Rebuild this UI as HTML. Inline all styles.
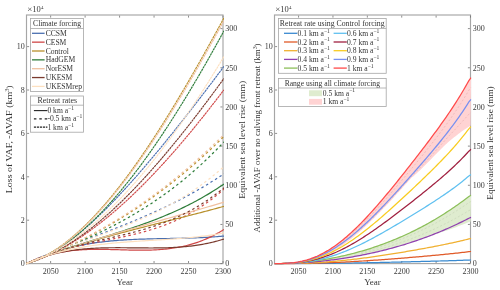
<!DOCTYPE html>
<html><head><meta charset="utf-8"><style>
html,body{margin:0;padding:0;background:#fff;width:500px;height:290px;overflow:hidden}
svg{display:block;will-change:transform}
#w{width:500px;height:290px}
</style></head><body><div id="w">
<svg width="500" height="290" viewBox="0 0 500 290">
<defs>
<clipPath id="cl"><rect x="25.5" y="14.0" width="198.5" height="250.60000000000002"/></clipPath>
<clipPath id="cr"><rect x="273.5" y="14.0" width="198.0" height="250.60000000000002"/></clipPath>
</defs>
<rect x="26.5" y="15.0" width="196.5" height="248.60000000000002" fill="none" stroke="#a6a6a6" stroke-width="1.15"/>
<rect x="274.5" y="15.0" width="196.0" height="248.60000000000002" fill="none" stroke="#a6a6a6" stroke-width="1.15"/>
<path d="M50.63,263.0 v-2 M50.63,15.6 v2 M85.11,263.0 v-2 M85.11,15.6 v2 M119.58,263.0 v-2 M119.58,15.6 v2 M154.05,263.0 v-2 M154.05,15.6 v2 M188.53,263.0 v-2 M188.53,15.6 v2 M223.00,263.0 v-2 M223.00,15.6 v2 M27.1,263.60 h2 M27.1,220.20 h2 M27.1,176.80 h2 M27.1,133.40 h2 M27.1,90.00 h2 M27.1,46.60 h2 M222.4,263.60 h-2 M222.4,224.44 h-2 M222.4,185.27 h-2 M222.4,146.11 h-2 M222.4,106.94 h-2 M222.4,67.78 h-2 M222.4,28.61 h-2" stroke="#707070" stroke-width="0.8" fill="none"/>
<path d="M298.57,263.0 v-2 M298.57,15.6 v2 M332.96,263.0 v-2 M332.96,15.6 v2 M367.34,263.0 v-2 M367.34,15.6 v2 M401.73,263.0 v-2 M401.73,15.6 v2 M436.11,263.0 v-2 M436.11,15.6 v2 M470.50,263.0 v-2 M470.50,15.6 v2 M275.1,263.60 h2 M275.1,220.20 h2 M275.1,176.80 h2 M275.1,133.40 h2 M275.1,90.00 h2 M275.1,46.60 h2 M469.9,263.60 h-2 M469.9,224.44 h-2 M469.9,185.27 h-2 M469.9,146.11 h-2 M469.9,106.94 h-2 M469.9,67.78 h-2 M469.9,28.61 h-2" stroke="#707070" stroke-width="0.8" fill="none"/>
<g clip-path="url(#cl)" fill="none" stroke-width="1.2">
<path d="M26.50,263.60 L28.16,262.78 L29.82,261.99 L31.48,261.20 L33.14,260.44 L34.80,259.70 L36.46,258.97 L38.12,258.26 L39.78,257.57 L41.44,256.89 L43.10,256.24 L44.76,255.59 L46.42,254.97 L48.08,254.36 L49.74,253.76 L51.39,253.19 L53.05,252.62 L54.71,252.08 L56.37,251.55 L58.03,251.03 L59.69,250.53 L61.35,250.04 L63.01,249.56 L64.67,249.10 L66.33,248.66 L67.99,248.22 L69.65,247.80 L71.31,247.40 L72.97,247.00 L74.63,246.62 L76.29,246.25 L77.95,245.89 L79.61,245.55 L81.27,245.22 L82.93,244.89 L84.59,244.58 L86.25,244.28 L87.91,244.00 L89.57,243.72 L91.23,243.45 L92.89,243.19 L94.55,242.94 L96.21,242.71 L97.87,242.48 L99.53,242.26 L101.18,242.05 L102.84,241.85 L104.50,241.65 L106.16,241.47 L107.82,241.29 L109.48,241.12 L111.14,240.96 L112.80,240.81 L114.46,240.67 L116.12,240.53 L117.78,240.39 L119.44,240.27 L121.10,240.15 L122.76,240.04 L124.42,239.93 L126.08,239.83 L127.74,239.73 L129.40,239.64 L131.06,239.56 L132.72,239.48 L134.38,239.40 L136.04,239.33 L137.70,239.26 L139.36,239.20 L141.02,239.14 L142.68,239.08 L144.34,239.03 L146.00,238.98 L147.66,238.94 L149.32,238.89 L150.97,238.85 L152.63,238.81 L154.29,238.77 L155.95,238.74 L157.61,238.70 L159.27,238.67 L160.93,238.64 L162.59,238.61 L164.25,238.57 L165.91,238.54 L167.57,238.51 L169.23,238.48 L170.89,238.45 L172.55,238.42 L174.21,238.39 L175.87,238.36 L177.53,238.33 L179.19,238.29 L180.85,238.26 L182.51,238.22 L184.17,238.18 L185.83,238.13 L187.49,238.09 L189.15,238.04 L190.81,237.99 L192.47,237.94 L194.13,237.88 L195.79,237.82 L197.45,237.76 L199.11,237.69 L200.76,237.61 L202.42,237.54 L204.08,237.45 L205.74,237.37 L207.40,237.28 L209.06,237.18 L210.72,237.08 L212.38,236.97 L214.04,236.85 L215.70,236.73 L217.36,236.61 L219.02,236.47 L220.68,236.33 L222.34,236.18 L224.00,236.03" stroke="#4a6fb0"/>
<path d="M26.50,263.60 L28.16,262.87 L29.82,262.15 L31.48,261.44 L33.14,260.73 L34.80,260.02 L36.46,259.32 L38.12,258.62 L39.78,257.93 L41.44,257.24 L43.10,256.55 L44.76,255.87 L46.42,255.19 L48.08,254.52 L49.74,253.84 L51.39,253.18 L53.05,252.51 L54.71,251.85 L56.37,251.19 L58.03,250.53 L59.69,249.88 L61.35,249.22 L63.01,248.57 L64.67,247.93 L66.33,247.28 L67.99,246.64 L69.65,245.99 L71.31,245.35 L72.97,244.71 L74.63,244.07 L76.29,243.44 L77.95,242.80 L79.61,242.16 L81.27,241.53 L82.93,240.89 L84.59,240.26 L86.25,239.63 L87.91,238.99 L89.57,238.36 L91.23,237.72 L92.89,237.09 L94.55,236.45 L96.21,235.82 L97.87,235.18 L99.53,234.54 L101.18,233.91 L102.84,233.27 L104.50,232.63 L106.16,231.98 L107.82,231.34 L109.48,230.69 L111.14,230.05 L112.80,229.40 L114.46,228.74 L116.12,228.09 L117.78,227.43 L119.44,226.77 L121.10,226.11 L122.76,225.45 L124.42,224.78 L126.08,224.11 L127.74,223.43 L129.40,222.75 L131.06,222.07 L132.72,221.39 L134.38,220.70 L136.04,220.01 L137.70,219.31 L139.36,218.61 L141.02,217.90 L142.68,217.19 L144.34,216.47 L146.00,215.75 L147.66,215.03 L149.32,214.30 L150.97,213.56 L152.63,212.82 L154.29,212.07 L155.95,211.32 L157.61,210.56 L159.27,209.80 L160.93,209.03 L162.59,208.25 L164.25,207.47 L165.91,206.68 L167.57,205.88 L169.23,205.08 L170.89,204.27 L172.55,203.45 L174.21,202.63 L175.87,201.80 L177.53,200.96 L179.19,200.11 L180.85,199.25 L182.51,198.39 L184.17,197.52 L185.83,196.64 L187.49,195.75 L189.15,194.86 L190.81,193.95 L192.47,193.04 L194.13,192.11 L195.79,191.18 L197.45,190.24 L199.11,189.29 L200.76,188.33 L202.42,187.36 L204.08,186.38 L205.74,185.39 L207.40,184.39 L209.06,183.38 L210.72,182.36 L212.38,181.33 L214.04,180.29 L215.70,179.24 L217.36,178.17 L219.02,177.10 L220.68,176.01 L222.34,174.92 L224.00,173.81" stroke="#4a6fb0" stroke-width="1.2" stroke-dasharray="2.5,2.8"/>
<path d="M26.50,263.60 L28.16,263.10 L29.82,262.56 L31.48,261.99 L33.14,261.39 L34.80,260.76 L36.46,260.10 L38.12,259.40 L39.78,258.68 L41.44,257.92 L43.10,257.13 L44.76,256.32 L46.42,255.47 L48.08,254.60 L49.74,253.69 L51.39,252.76 L53.05,251.80 L54.71,250.82 L56.37,249.81 L58.03,248.77 L59.69,247.70 L61.35,246.61 L63.01,245.49 L64.67,244.35 L66.33,243.18 L67.99,241.99 L69.65,240.77 L71.31,239.53 L72.97,238.27 L74.63,236.99 L76.29,235.68 L77.95,234.35 L79.61,233.00 L81.27,231.62 L82.93,230.23 L84.59,228.82 L86.25,227.38 L87.91,225.93 L89.57,224.45 L91.23,222.96 L92.89,221.45 L94.55,219.92 L96.21,218.37 L97.87,216.81 L99.53,215.22 L101.18,213.62 L102.84,212.01 L104.50,210.37 L106.16,208.73 L107.82,207.06 L109.48,205.38 L111.14,203.68 L112.80,201.97 L114.46,200.25 L116.12,198.51 L117.78,196.76 L119.44,194.99 L121.10,193.21 L122.76,191.42 L124.42,189.61 L126.08,187.79 L127.74,185.96 L129.40,184.12 L131.06,182.27 L132.72,180.41 L134.38,178.53 L136.04,176.65 L137.70,174.75 L139.36,172.85 L141.02,170.94 L142.68,169.01 L144.34,167.08 L146.00,165.14 L147.66,163.19 L149.32,161.24 L150.97,159.27 L152.63,157.30 L154.29,155.32 L155.95,153.33 L157.61,151.34 L159.27,149.34 L160.93,147.33 L162.59,145.31 L164.25,143.28 L165.91,141.25 L167.57,139.21 L169.23,137.17 L170.89,135.11 L172.55,133.05 L174.21,130.99 L175.87,128.91 L177.53,126.83 L179.19,124.75 L180.85,122.65 L182.51,120.56 L184.17,118.45 L185.83,116.34 L187.49,114.22 L189.15,112.10 L190.81,109.97 L192.47,107.84 L194.13,105.70 L195.79,103.55 L197.45,101.40 L199.11,99.24 L200.76,97.08 L202.42,94.92 L204.08,92.75 L205.74,90.57 L207.40,88.39 L209.06,86.20 L210.72,84.01 L212.38,81.82 L214.04,79.62 L215.70,77.41 L217.36,75.20 L219.02,72.99 L220.68,70.77 L222.34,68.55 L224.00,66.33" stroke="#4a6fb0" stroke-width="1.15" stroke-dasharray="2.4,0.55"/>
<path d="M26.50,263.60 L28.16,262.78 L29.82,261.99 L31.48,261.23 L33.14,260.50 L34.80,259.80 L36.46,259.13 L38.12,258.48 L39.78,257.87 L41.44,257.28 L43.10,256.72 L44.76,256.18 L46.42,255.67 L48.08,255.18 L49.74,254.72 L51.39,254.28 L53.05,253.87 L54.71,253.48 L56.37,253.11 L58.03,252.76 L59.69,252.43 L61.35,252.12 L63.01,251.83 L64.67,251.56 L66.33,251.31 L67.99,251.08 L69.65,250.87 L71.31,250.67 L72.97,250.49 L74.63,250.32 L76.29,250.17 L77.95,250.04 L79.61,249.91 L81.27,249.81 L82.93,249.71 L84.59,249.63 L86.25,249.56 L87.91,249.50 L89.57,249.45 L91.23,249.41 L92.89,249.38 L94.55,249.36 L96.21,249.35 L97.87,249.35 L99.53,249.35 L101.18,249.36 L102.84,249.38 L104.50,249.40 L106.16,249.43 L107.82,249.46 L109.48,249.50 L111.14,249.53 L112.80,249.58 L114.46,249.62 L116.12,249.67 L117.78,249.72 L119.44,249.76 L121.10,249.81 L122.76,249.86 L124.42,249.91 L126.08,249.95 L127.74,249.99 L129.40,250.03 L131.06,250.07 L132.72,250.10 L134.38,250.13 L136.04,250.15 L137.70,250.17 L139.36,250.18 L141.02,250.19 L142.68,250.18 L144.34,250.17 L146.00,250.15 L147.66,250.13 L149.32,250.09 L150.97,250.04 L152.63,249.98 L154.29,249.91 L155.95,249.83 L157.61,249.74 L159.27,249.63 L160.93,249.51 L162.59,249.38 L164.25,249.23 L165.91,249.06 L167.57,248.88 L169.23,248.69 L170.89,248.47 L172.55,248.24 L174.21,248.00 L175.87,247.73 L177.53,247.44 L179.19,247.14 L180.85,246.81 L182.51,246.47 L184.17,246.10 L185.83,245.71 L187.49,245.29 L189.15,244.86 L190.81,244.40 L192.47,243.92 L194.13,243.41 L195.79,242.88 L197.45,242.32 L199.11,241.73 L200.76,241.12 L202.42,240.48 L204.08,239.81 L205.74,239.11 L207.40,238.39 L209.06,237.63 L210.72,236.84 L212.38,236.03 L214.04,235.18 L215.70,234.30 L217.36,233.38 L219.02,232.44 L220.68,231.45 L222.34,230.44 L224.00,229.39" stroke="#d04848"/>
<path d="M26.50,263.60 L28.16,262.80 L29.82,262.02 L31.48,261.26 L33.14,260.52 L34.80,259.80 L36.46,259.10 L38.12,258.42 L39.78,257.75 L41.44,257.10 L43.10,256.46 L44.76,255.85 L46.42,255.24 L48.08,254.66 L49.74,254.09 L51.39,253.53 L53.05,252.99 L54.71,252.46 L56.37,251.94 L58.03,251.44 L59.69,250.94 L61.35,250.46 L63.01,249.99 L64.67,249.54 L66.33,249.09 L67.99,248.65 L69.65,248.22 L71.31,247.80 L72.97,247.39 L74.63,246.99 L76.29,246.60 L77.95,246.21 L79.61,245.83 L81.27,245.46 L82.93,245.09 L84.59,244.73 L86.25,244.37 L87.91,244.02 L89.57,243.67 L91.23,243.32 L92.89,242.98 L94.55,242.64 L96.21,242.31 L97.87,241.98 L99.53,241.64 L101.18,241.31 L102.84,240.98 L104.50,240.65 L106.16,240.32 L107.82,239.99 L109.48,239.66 L111.14,239.33 L112.80,238.99 L114.46,238.65 L116.12,238.31 L117.78,237.97 L119.44,237.62 L121.10,237.27 L122.76,236.92 L124.42,236.56 L126.08,236.19 L127.74,235.82 L129.40,235.44 L131.06,235.05 L132.72,234.66 L134.38,234.26 L136.04,233.85 L137.70,233.43 L139.36,233.01 L141.02,232.57 L142.68,232.13 L144.34,231.67 L146.00,231.21 L147.66,230.73 L149.32,230.24 L150.97,229.74 L152.63,229.22 L154.29,228.70 L155.95,228.16 L157.61,227.60 L159.27,227.03 L160.93,226.45 L162.59,225.85 L164.25,225.24 L165.91,224.61 L167.57,223.96 L169.23,223.30 L170.89,222.62 L172.55,221.92 L174.21,221.20 L175.87,220.47 L177.53,219.71 L179.19,218.94 L180.85,218.15 L182.51,217.33 L184.17,216.50 L185.83,215.64 L187.49,214.76 L189.15,213.86 L190.81,212.94 L192.47,211.99 L194.13,211.02 L195.79,210.02 L197.45,209.01 L199.11,207.96 L200.76,206.89 L202.42,205.80 L204.08,204.68 L205.74,203.53 L207.40,202.36 L209.06,201.15 L210.72,199.92 L212.38,198.67 L214.04,197.38 L215.70,196.06 L217.36,194.72 L219.02,193.34 L220.68,191.93 L222.34,190.50 L224.00,189.03" stroke="#d04848" stroke-width="1.2" stroke-dasharray="2.5,2.8"/>
<path d="M26.50,263.60 L28.16,263.08 L29.82,262.55 L31.48,262.00 L33.14,261.43 L34.80,260.84 L36.46,260.23 L38.12,259.60 L39.78,258.95 L41.44,258.29 L43.10,257.60 L44.76,256.90 L46.42,256.17 L48.08,255.43 L49.74,254.67 L51.39,253.89 L53.05,253.09 L54.71,252.27 L56.37,251.44 L58.03,250.58 L59.69,249.71 L61.35,248.82 L63.01,247.91 L64.67,246.99 L66.33,246.05 L67.99,245.09 L69.65,244.11 L71.31,243.11 L72.97,242.10 L74.63,241.07 L76.29,240.02 L77.95,238.96 L79.61,237.88 L81.27,236.78 L82.93,235.66 L84.59,234.53 L86.25,233.39 L87.91,232.22 L89.57,231.04 L91.23,229.84 L92.89,228.63 L94.55,227.40 L96.21,226.16 L97.87,224.89 L99.53,223.62 L101.18,222.32 L102.84,221.02 L104.50,219.69 L106.16,218.35 L107.82,217.00 L109.48,215.63 L111.14,214.24 L112.80,212.84 L114.46,211.43 L116.12,210.00 L117.78,208.55 L119.44,207.09 L121.10,205.62 L122.76,204.13 L124.42,202.63 L126.08,201.11 L127.74,199.58 L129.40,198.03 L131.06,196.47 L132.72,194.90 L134.38,193.31 L136.04,191.71 L137.70,190.10 L139.36,188.47 L141.02,186.83 L142.68,185.18 L144.34,183.51 L146.00,181.83 L147.66,180.13 L149.32,178.42 L150.97,176.70 L152.63,174.97 L154.29,173.23 L155.95,171.47 L157.61,169.70 L159.27,167.92 L160.93,166.12 L162.59,164.31 L164.25,162.49 L165.91,160.66 L167.57,158.82 L169.23,156.96 L170.89,155.10 L172.55,153.22 L174.21,151.33 L175.87,149.43 L177.53,147.51 L179.19,145.59 L180.85,143.65 L182.51,141.71 L184.17,139.75 L185.83,137.78 L187.49,135.80 L189.15,133.81 L190.81,131.81 L192.47,129.80 L194.13,127.78 L195.79,125.75 L197.45,123.71 L199.11,121.66 L200.76,119.60 L202.42,117.52 L204.08,115.44 L205.74,113.35 L207.40,111.25 L209.06,109.14 L210.72,107.02 L212.38,104.89 L214.04,102.75 L215.70,100.61 L217.36,98.45 L219.02,96.28 L220.68,94.11 L222.34,91.93 L224.00,89.73" stroke="#d04848" stroke-width="1.15" stroke-dasharray="2.4,0.55"/>
<path d="M26.50,263.60 L28.16,262.93 L29.82,262.27 L31.48,261.61 L33.14,260.96 L34.80,260.32 L36.46,259.68 L38.12,259.05 L39.78,258.42 L41.44,257.80 L43.10,257.19 L44.76,256.58 L46.42,255.97 L48.08,255.37 L49.74,254.78 L51.39,254.19 L53.05,253.60 L54.71,253.02 L56.37,252.44 L58.03,251.87 L59.69,251.31 L61.35,250.74 L63.01,250.19 L64.67,249.63 L66.33,249.08 L67.99,248.54 L69.65,248.00 L71.31,247.46 L72.97,246.93 L74.63,246.40 L76.29,245.88 L77.95,245.36 L79.61,244.84 L81.27,244.33 L82.93,243.82 L84.59,243.31 L86.25,242.81 L87.91,242.31 L89.57,241.82 L91.23,241.33 L92.89,240.84 L94.55,240.35 L96.21,239.87 L97.87,239.39 L99.53,238.91 L101.18,238.44 L102.84,237.97 L104.50,237.50 L106.16,237.03 L107.82,236.57 L109.48,236.11 L111.14,235.65 L112.80,235.19 L114.46,234.74 L116.12,234.29 L117.78,233.84 L119.44,233.39 L121.10,232.95 L122.76,232.50 L124.42,232.06 L126.08,231.62 L127.74,231.19 L129.40,230.75 L131.06,230.31 L132.72,229.88 L134.38,229.45 L136.04,229.02 L137.70,228.59 L139.36,228.16 L141.02,227.74 L142.68,227.31 L144.34,226.88 L146.00,226.46 L147.66,226.04 L149.32,225.62 L150.97,225.20 L152.63,224.77 L154.29,224.35 L155.95,223.93 L157.61,223.52 L159.27,223.10 L160.93,222.68 L162.59,222.26 L164.25,221.84 L165.91,221.42 L167.57,221.01 L169.23,220.59 L170.89,220.17 L172.55,219.75 L174.21,219.33 L175.87,218.92 L177.53,218.50 L179.19,218.08 L180.85,217.66 L182.51,217.24 L184.17,216.81 L185.83,216.39 L187.49,215.97 L189.15,215.54 L190.81,215.12 L192.47,214.69 L194.13,214.27 L195.79,213.84 L197.45,213.41 L199.11,212.98 L200.76,212.55 L202.42,212.11 L204.08,211.68 L205.74,211.24 L207.40,210.80 L209.06,210.36 L210.72,209.92 L212.38,209.47 L214.04,209.03 L215.70,208.58 L217.36,208.13 L219.02,207.68 L220.68,207.22 L222.34,206.77 L224.00,206.31" stroke="#b8902c"/>
<path d="M26.50,263.60 L28.16,262.98 L29.82,262.36 L31.48,261.74 L33.14,261.10 L34.80,260.47 L36.46,259.82 L38.12,259.18 L39.78,258.52 L41.44,257.86 L43.10,257.20 L44.76,256.52 L46.42,255.85 L48.08,255.16 L49.74,254.47 L51.39,253.77 L53.05,253.07 L54.71,252.36 L56.37,251.64 L58.03,250.92 L59.69,250.19 L61.35,249.46 L63.01,248.72 L64.67,247.97 L66.33,247.21 L67.99,246.45 L69.65,245.68 L71.31,244.90 L72.97,244.12 L74.63,243.33 L76.29,242.53 L77.95,241.73 L79.61,240.92 L81.27,240.10 L82.93,239.27 L84.59,238.44 L86.25,237.60 L87.91,236.75 L89.57,235.89 L91.23,235.03 L92.89,234.16 L94.55,233.28 L96.21,232.39 L97.87,231.50 L99.53,230.59 L101.18,229.68 L102.84,228.76 L104.50,227.84 L106.16,226.90 L107.82,225.96 L109.48,225.01 L111.14,224.05 L112.80,223.08 L114.46,222.11 L116.12,221.12 L117.78,220.13 L119.44,219.13 L121.10,218.12 L122.76,217.10 L124.42,216.07 L126.08,215.03 L127.74,213.99 L129.40,212.94 L131.06,211.87 L132.72,210.80 L134.38,209.72 L136.04,208.63 L137.70,207.53 L139.36,206.42 L141.02,205.30 L142.68,204.18 L144.34,203.04 L146.00,201.89 L147.66,200.74 L149.32,199.57 L150.97,198.40 L152.63,197.21 L154.29,196.02 L155.95,194.81 L157.61,193.60 L159.27,192.38 L160.93,191.14 L162.59,189.90 L164.25,188.64 L165.91,187.38 L167.57,186.11 L169.23,184.82 L170.89,183.53 L172.55,182.22 L174.21,180.91 L175.87,179.58 L177.53,178.24 L179.19,176.90 L180.85,175.54 L182.51,174.17 L184.17,172.79 L185.83,171.40 L187.49,170.00 L189.15,168.59 L190.81,167.16 L192.47,165.73 L194.13,164.29 L195.79,162.83 L197.45,161.36 L199.11,159.88 L200.76,158.39 L202.42,156.89 L204.08,155.38 L205.74,153.85 L207.40,152.32 L209.06,150.77 L210.72,149.21 L212.38,147.64 L214.04,146.06 L215.70,144.46 L217.36,142.86 L219.02,141.24 L220.68,139.61 L222.34,137.97 L224.00,136.31" stroke="#b8902c" stroke-width="1.2" stroke-dasharray="2.5,2.8"/>
<path d="M26.50,263.60 L28.16,263.09 L29.82,262.54 L31.48,261.96 L33.14,261.34 L34.80,260.69 L36.46,260.00 L38.12,259.28 L39.78,258.52 L41.44,257.73 L43.10,256.91 L44.76,256.05 L46.42,255.16 L48.08,254.23 L49.74,253.27 L51.39,252.28 L53.05,251.26 L54.71,250.20 L56.37,249.12 L58.03,248.00 L59.69,246.85 L61.35,245.66 L63.01,244.45 L64.67,243.21 L66.33,241.93 L67.99,240.63 L69.65,239.30 L71.31,237.93 L72.97,236.54 L74.63,235.11 L76.29,233.66 L77.95,232.18 L79.61,230.67 L81.27,229.13 L82.93,227.57 L84.59,225.98 L86.25,224.35 L87.91,222.71 L89.57,221.03 L91.23,219.33 L92.89,217.60 L94.55,215.84 L96.21,214.06 L97.87,212.25 L99.53,210.42 L101.18,208.56 L102.84,206.68 L104.50,204.77 L106.16,202.84 L107.82,200.88 L109.48,198.90 L111.14,196.89 L112.80,194.87 L114.46,192.81 L116.12,190.74 L117.78,188.64 L119.44,186.52 L121.10,184.37 L122.76,182.21 L124.42,180.02 L126.08,177.81 L127.74,175.58 L129.40,173.33 L131.06,171.05 L132.72,168.76 L134.38,166.44 L136.04,164.11 L137.70,161.76 L139.36,159.38 L141.02,156.99 L142.68,154.57 L144.34,152.14 L146.00,149.69 L147.66,147.22 L149.32,144.73 L150.97,142.23 L152.63,139.70 L154.29,137.16 L155.95,134.60 L157.61,132.03 L159.27,129.43 L160.93,126.82 L162.59,124.20 L164.25,121.56 L165.91,118.90 L167.57,116.23 L169.23,113.54 L170.89,110.84 L172.55,108.12 L174.21,105.38 L175.87,102.64 L177.53,99.88 L179.19,97.10 L180.85,94.31 L182.51,91.51 L184.17,88.69 L185.83,85.86 L187.49,83.02 L189.15,80.17 L190.81,77.30 L192.47,74.43 L194.13,71.54 L195.79,68.63 L197.45,65.72 L199.11,62.80 L200.76,59.87 L202.42,56.92 L204.08,53.97 L205.74,51.00 L207.40,48.03 L209.06,45.04 L210.72,42.05 L212.38,39.05 L214.04,36.04 L215.70,33.02 L217.36,29.99 L219.02,26.96 L220.68,23.91 L222.34,20.86 L224.00,17.80" stroke="#b8902c" stroke-width="1.15" stroke-dasharray="2.4,0.55"/>
<path d="M26.50,263.60 L28.16,262.90 L29.82,262.20 L31.48,261.52 L33.14,260.84 L34.80,260.18 L36.46,259.52 L38.12,258.87 L39.78,258.22 L41.44,257.59 L43.10,256.96 L44.76,256.34 L46.42,255.72 L48.08,255.11 L49.74,254.51 L51.39,253.91 L53.05,253.32 L54.71,252.74 L56.37,252.16 L58.03,251.59 L59.69,251.02 L61.35,250.45 L63.01,249.89 L64.67,249.34 L66.33,248.79 L67.99,248.24 L69.65,247.70 L71.31,247.16 L72.97,246.62 L74.63,246.09 L76.29,245.56 L77.95,245.03 L79.61,244.51 L81.27,243.98 L82.93,243.46 L84.59,242.94 L86.25,242.43 L87.91,241.91 L89.57,241.40 L91.23,240.88 L92.89,240.37 L94.55,239.86 L96.21,239.34 L97.87,238.83 L99.53,238.32 L101.18,237.81 L102.84,237.30 L104.50,236.78 L106.16,236.27 L107.82,235.75 L109.48,235.24 L111.14,234.72 L112.80,234.20 L114.46,233.67 L116.12,233.15 L117.78,232.62 L119.44,232.09 L121.10,231.56 L122.76,231.02 L124.42,230.49 L126.08,229.94 L127.74,229.40 L129.40,228.85 L131.06,228.29 L132.72,227.73 L134.38,227.17 L136.04,226.60 L137.70,226.03 L139.36,225.45 L141.02,224.87 L142.68,224.28 L144.34,223.68 L146.00,223.08 L147.66,222.48 L149.32,221.86 L150.97,221.24 L152.63,220.61 L154.29,219.98 L155.95,219.34 L157.61,218.69 L159.27,218.03 L160.93,217.36 L162.59,216.69 L164.25,216.01 L165.91,215.32 L167.57,214.62 L169.23,213.91 L170.89,213.19 L172.55,212.46 L174.21,211.73 L175.87,210.98 L177.53,210.22 L179.19,209.45 L180.85,208.67 L182.51,207.89 L184.17,207.09 L185.83,206.27 L187.49,205.45 L189.15,204.62 L190.81,203.77 L192.47,202.91 L194.13,202.04 L195.79,201.16 L197.45,200.26 L199.11,199.36 L200.76,198.43 L202.42,197.50 L204.08,196.55 L205.74,195.59 L207.40,194.61 L209.06,193.62 L210.72,192.62 L212.38,191.60 L214.04,190.56 L215.70,189.51 L217.36,188.45 L219.02,187.37 L220.68,186.27 L222.34,185.16 L224.00,184.03" stroke="#2e7d3a"/>
<path d="M26.50,263.60 L28.16,262.94 L29.82,262.28 L31.48,261.62 L33.14,260.95 L34.80,260.29 L36.46,259.63 L38.12,258.97 L39.78,258.31 L41.44,257.65 L43.10,256.98 L44.76,256.32 L46.42,255.65 L48.08,254.98 L49.74,254.31 L51.39,253.64 L53.05,252.96 L54.71,252.29 L56.37,251.61 L58.03,250.93 L59.69,250.25 L61.35,249.56 L63.01,248.87 L64.67,248.18 L66.33,247.48 L67.99,246.78 L69.65,246.08 L71.31,245.37 L72.97,244.66 L74.63,243.94 L76.29,243.22 L77.95,242.50 L79.61,241.77 L81.27,241.04 L82.93,240.30 L84.59,239.55 L86.25,238.80 L87.91,238.05 L89.57,237.29 L91.23,236.52 L92.89,235.75 L94.55,234.97 L96.21,234.19 L97.87,233.40 L99.53,232.60 L101.18,231.80 L102.84,230.98 L104.50,230.17 L106.16,229.34 L107.82,228.51 L109.48,227.67 L111.14,226.82 L112.80,225.96 L114.46,225.10 L116.12,224.22 L117.78,223.34 L119.44,222.45 L121.10,221.55 L122.76,220.64 L124.42,219.73 L126.08,218.80 L127.74,217.87 L129.40,216.92 L131.06,215.97 L132.72,215.00 L134.38,214.03 L136.04,213.04 L137.70,212.04 L139.36,211.04 L141.02,210.02 L142.68,208.99 L144.34,207.95 L146.00,206.90 L147.66,205.84 L149.32,204.77 L150.97,203.68 L152.63,202.59 L154.29,201.48 L155.95,200.36 L157.61,199.22 L159.27,198.08 L160.93,196.92 L162.59,195.75 L164.25,194.56 L165.91,193.36 L167.57,192.15 L169.23,190.93 L170.89,189.69 L172.55,188.44 L174.21,187.17 L175.87,185.89 L177.53,184.60 L179.19,183.29 L180.85,181.96 L182.51,180.62 L184.17,179.27 L185.83,177.90 L187.49,176.51 L189.15,175.11 L190.81,173.70 L192.47,172.27 L194.13,170.82 L195.79,169.35 L197.45,167.87 L199.11,166.38 L200.76,164.86 L202.42,163.33 L204.08,161.79 L205.74,160.22 L207.40,158.64 L209.06,157.04 L210.72,155.42 L212.38,153.79 L214.04,152.14 L215.70,150.47 L217.36,148.78 L219.02,147.07 L220.68,145.34 L222.34,143.60 L224.00,141.83" stroke="#2e7d3a" stroke-width="1.2" stroke-dasharray="2.5,2.8"/>
<path d="M26.50,263.60 L28.16,263.09 L29.82,262.55 L31.48,261.98 L33.14,261.38 L34.80,260.75 L36.46,260.09 L38.12,259.41 L39.78,258.69 L41.44,257.94 L43.10,257.16 L44.76,256.35 L46.42,255.52 L48.08,254.65 L49.74,253.76 L51.39,252.83 L53.05,251.88 L54.71,250.90 L56.37,249.90 L58.03,248.86 L59.69,247.80 L61.35,246.71 L63.01,245.59 L64.67,244.44 L66.33,243.27 L67.99,242.07 L69.65,240.84 L71.31,239.59 L72.97,238.31 L74.63,237.00 L76.29,235.67 L77.95,234.31 L79.61,232.92 L81.27,231.51 L82.93,230.07 L84.59,228.61 L86.25,227.12 L87.91,225.61 L89.57,224.07 L91.23,222.51 L92.89,220.92 L94.55,219.31 L96.21,217.68 L97.87,216.01 L99.53,214.33 L101.18,212.62 L102.84,210.89 L104.50,209.13 L106.16,207.35 L107.82,205.55 L109.48,203.73 L111.14,201.88 L112.80,200.00 L114.46,198.11 L116.12,196.19 L117.78,194.25 L119.44,192.29 L121.10,190.31 L122.76,188.30 L124.42,186.28 L126.08,184.23 L127.74,182.16 L129.40,180.07 L131.06,177.95 L132.72,175.82 L134.38,173.67 L136.04,171.49 L137.70,169.30 L139.36,167.08 L141.02,164.84 L142.68,162.59 L144.34,160.31 L146.00,158.02 L147.66,155.70 L149.32,153.37 L150.97,151.01 L152.63,148.64 L154.29,146.25 L155.95,143.84 L157.61,141.41 L159.27,138.96 L160.93,136.50 L162.59,134.01 L164.25,131.51 L165.91,128.99 L167.57,126.46 L169.23,123.90 L170.89,121.33 L172.55,118.74 L174.21,116.13 L175.87,113.51 L177.53,110.87 L179.19,108.21 L180.85,105.54 L182.51,102.85 L184.17,100.14 L185.83,97.42 L187.49,94.69 L189.15,91.93 L190.81,89.16 L192.47,86.38 L194.13,83.58 L195.79,80.77 L197.45,77.94 L199.11,75.10 L200.76,72.24 L202.42,69.37 L204.08,66.48 L205.74,63.58 L207.40,60.66 L209.06,57.74 L210.72,54.79 L212.38,51.84 L214.04,48.87 L215.70,45.89 L217.36,42.89 L219.02,39.89 L220.68,36.87 L222.34,33.83 L224.00,30.79" stroke="#2e7d3a" stroke-width="1.15" stroke-dasharray="2.4,0.55"/>
<path d="M26.50,263.59 L28.16,262.95 L29.82,262.30 L31.48,261.67 L33.14,261.03 L34.80,260.40 L36.46,259.77 L38.12,259.15 L39.78,258.53 L41.44,257.92 L43.10,257.30 L44.76,256.70 L46.42,256.09 L48.08,255.49 L49.74,254.89 L51.39,254.30 L53.05,253.71 L54.71,253.12 L56.37,252.54 L58.03,251.96 L59.69,251.38 L61.35,250.81 L63.01,250.24 L64.67,249.67 L66.33,249.11 L67.99,248.55 L69.65,247.99 L71.31,247.43 L72.97,246.88 L74.63,246.33 L76.29,245.78 L77.95,245.24 L79.61,244.70 L81.27,244.16 L82.93,243.62 L84.59,243.09 L86.25,242.56 L87.91,242.03 L89.57,241.50 L91.23,240.98 L92.89,240.45 L94.55,239.93 L96.21,239.42 L97.87,238.90 L99.53,238.39 L101.18,237.87 L102.84,237.36 L104.50,236.86 L106.16,236.35 L107.82,235.85 L109.48,235.34 L111.14,234.84 L112.80,234.34 L114.46,233.85 L116.12,233.35 L117.78,232.86 L119.44,232.36 L121.10,231.87 L122.76,231.38 L124.42,230.89 L126.08,230.41 L127.74,229.92 L129.40,229.43 L131.06,228.95 L132.72,228.47 L134.38,227.99 L136.04,227.50 L137.70,227.02 L139.36,226.55 L141.02,226.07 L142.68,225.59 L144.34,225.11 L146.00,224.64 L147.66,224.16 L149.32,223.68 L150.97,223.21 L152.63,222.74 L154.29,222.26 L155.95,221.79 L157.61,221.32 L159.27,220.84 L160.93,220.37 L162.59,219.90 L164.25,219.43 L165.91,218.95 L167.57,218.48 L169.23,218.01 L170.89,217.54 L172.55,217.06 L174.21,216.59 L175.87,216.12 L177.53,215.65 L179.19,215.17 L180.85,214.70 L182.51,214.22 L184.17,213.75 L185.83,213.27 L187.49,212.80 L189.15,212.32 L190.81,211.84 L192.47,211.37 L194.13,210.89 L195.79,210.41 L197.45,209.93 L199.11,209.45 L200.76,208.96 L202.42,208.48 L204.08,208.00 L205.74,207.51 L207.40,207.02 L209.06,206.54 L210.72,206.05 L212.38,205.56 L214.04,205.07 L215.70,204.57 L217.36,204.08 L219.02,203.58 L220.68,203.08 L222.34,202.58 L224.00,202.08" stroke="#f0c0a0"/>
<path d="M26.50,263.60 L28.16,262.98 L29.82,262.36 L31.48,261.74 L33.14,261.11 L34.80,260.47 L36.46,259.82 L38.12,259.17 L39.78,258.51 L41.44,257.85 L43.10,257.18 L44.76,256.50 L46.42,255.81 L48.08,255.12 L49.74,254.42 L51.39,253.71 L53.05,253.00 L54.71,252.28 L56.37,251.55 L58.03,250.82 L59.69,250.08 L61.35,249.33 L63.01,248.57 L64.67,247.81 L66.33,247.04 L67.99,246.26 L69.65,245.48 L71.31,244.68 L72.97,243.88 L74.63,243.07 L76.29,242.26 L77.95,241.44 L79.61,240.61 L81.27,239.77 L82.93,238.92 L84.59,238.07 L86.25,237.21 L87.91,236.34 L89.57,235.46 L91.23,234.57 L92.89,233.68 L94.55,232.78 L96.21,231.87 L97.87,230.95 L99.53,230.03 L101.18,229.09 L102.84,228.15 L104.50,227.20 L106.16,226.24 L107.82,225.27 L109.48,224.30 L111.14,223.32 L112.80,222.32 L114.46,221.32 L116.12,220.31 L117.78,219.30 L119.44,218.27 L121.10,217.23 L122.76,216.19 L124.42,215.14 L126.08,214.08 L127.74,213.01 L129.40,211.93 L131.06,210.84 L132.72,209.74 L134.38,208.64 L136.04,207.52 L137.70,206.40 L139.36,205.26 L141.02,204.12 L142.68,202.97 L144.34,201.81 L146.00,200.64 L147.66,199.46 L149.32,198.27 L150.97,197.07 L152.63,195.87 L154.29,194.65 L155.95,193.42 L157.61,192.19 L159.27,190.94 L160.93,189.69 L162.59,188.42 L164.25,187.15 L165.91,185.86 L167.57,184.57 L169.23,183.26 L170.89,181.95 L172.55,180.63 L174.21,179.29 L175.87,177.95 L177.53,176.59 L179.19,175.23 L180.85,173.85 L182.51,172.47 L184.17,171.08 L185.83,169.67 L187.49,168.26 L189.15,166.83 L190.81,165.39 L192.47,163.95 L194.13,162.49 L195.79,161.02 L197.45,159.55 L199.11,158.06 L200.76,156.56 L202.42,155.05 L204.08,153.53 L205.74,152.00 L207.40,150.45 L209.06,148.90 L210.72,147.34 L212.38,145.76 L214.04,144.18 L215.70,142.58 L217.36,140.97 L219.02,139.36 L220.68,137.73 L222.34,136.08 L224.00,134.43" stroke="#f0c0a0" stroke-width="1.2" stroke-dasharray="2.5,2.8"/>
<path d="M26.50,263.60 L28.16,263.09 L29.82,262.55 L31.48,261.98 L33.14,261.37 L34.80,260.73 L36.46,260.05 L38.12,259.34 L39.78,258.59 L41.44,257.81 L43.10,257.00 L44.76,256.16 L46.42,255.28 L48.08,254.37 L49.74,253.43 L51.39,252.45 L53.05,251.45 L54.71,250.41 L56.37,249.34 L58.03,248.24 L59.69,247.11 L61.35,245.95 L63.01,244.76 L64.67,243.54 L66.33,242.28 L67.99,241.00 L69.65,239.69 L71.31,238.35 L72.97,236.98 L74.63,235.58 L76.29,234.16 L77.95,232.70 L79.61,231.22 L81.27,229.71 L82.93,228.17 L84.59,226.60 L86.25,225.01 L87.91,223.39 L89.57,221.74 L91.23,220.07 L92.89,218.37 L94.55,216.64 L96.21,214.89 L97.87,213.11 L99.53,211.31 L101.18,209.48 L102.84,207.63 L104.50,205.75 L106.16,203.85 L107.82,201.92 L109.48,199.97 L111.14,198.00 L112.80,196.00 L114.46,193.98 L116.12,191.93 L117.78,189.87 L119.44,187.78 L121.10,185.67 L122.76,183.53 L124.42,181.38 L126.08,179.20 L127.74,177.00 L129.40,174.78 L131.06,172.54 L132.72,170.27 L134.38,167.99 L136.04,165.69 L137.70,163.36 L139.36,161.02 L141.02,158.66 L142.68,156.28 L144.34,153.87 L146.00,151.45 L147.66,149.01 L149.32,146.56 L150.97,144.08 L152.63,141.59 L154.29,139.08 L155.95,136.55 L157.61,134.00 L159.27,131.43 L160.93,128.85 L162.59,126.26 L164.25,123.64 L165.91,121.01 L167.57,118.37 L169.23,115.70 L170.89,113.03 L172.55,110.33 L174.21,107.63 L175.87,104.90 L177.53,102.17 L179.19,99.41 L180.85,96.65 L182.51,93.87 L184.17,91.07 L185.83,88.27 L187.49,85.45 L189.15,82.61 L190.81,79.77 L192.47,76.91 L194.13,74.04 L195.79,71.15 L197.45,68.26 L199.11,65.35 L200.76,62.43 L202.42,59.51 L204.08,56.57 L205.74,53.61 L207.40,50.65 L209.06,47.68 L210.72,44.70 L212.38,41.71 L214.04,38.71 L215.70,35.70 L217.36,32.68 L219.02,29.65 L220.68,26.61 L222.34,23.57 L224.00,20.51" stroke="#f0c0a0" stroke-width="1.15" stroke-dasharray="2.4,0.55"/>
<path d="M26.50,263.60 L28.16,262.84 L29.82,262.11 L31.48,261.40 L33.14,260.72 L34.80,260.06 L36.46,259.42 L38.12,258.80 L39.78,258.21 L41.44,257.63 L43.10,257.08 L44.76,256.55 L46.42,256.03 L48.08,255.54 L49.74,255.07 L51.39,254.61 L53.05,254.18 L54.71,253.76 L56.37,253.36 L58.03,252.98 L59.69,252.61 L61.35,252.26 L63.01,251.93 L64.67,251.61 L66.33,251.31 L67.99,251.03 L69.65,250.76 L71.31,250.50 L72.97,250.26 L74.63,250.03 L76.29,249.82 L77.95,249.62 L79.61,249.43 L81.27,249.25 L82.93,249.09 L84.59,248.93 L86.25,248.79 L87.91,248.66 L89.57,248.54 L91.23,248.43 L92.89,248.33 L94.55,248.24 L96.21,248.15 L97.87,248.08 L99.53,248.01 L101.18,247.96 L102.84,247.91 L104.50,247.86 L106.16,247.82 L107.82,247.79 L109.48,247.77 L111.14,247.75 L112.80,247.74 L114.46,247.73 L116.12,247.72 L117.78,247.72 L119.44,247.72 L121.10,247.73 L122.76,247.74 L124.42,247.75 L126.08,247.76 L127.74,247.78 L129.40,247.80 L131.06,247.82 L132.72,247.83 L134.38,247.85 L136.04,247.87 L137.70,247.89 L139.36,247.91 L141.02,247.93 L142.68,247.94 L144.34,247.95 L146.00,247.97 L147.66,247.97 L149.32,247.98 L150.97,247.98 L152.63,247.98 L154.29,247.97 L155.95,247.96 L157.61,247.95 L159.27,247.93 L160.93,247.90 L162.59,247.87 L164.25,247.83 L165.91,247.78 L167.57,247.73 L169.23,247.67 L170.89,247.60 L172.55,247.52 L174.21,247.44 L175.87,247.34 L177.53,247.24 L179.19,247.13 L180.85,247.00 L182.51,246.87 L184.17,246.72 L185.83,246.57 L187.49,246.40 L189.15,246.22 L190.81,246.03 L192.47,245.82 L194.13,245.61 L195.79,245.37 L197.45,245.13 L199.11,244.87 L200.76,244.59 L202.42,244.30 L204.08,244.00 L205.74,243.68 L207.40,243.34 L209.06,242.99 L210.72,242.62 L212.38,242.23 L214.04,241.83 L215.70,241.40 L217.36,240.96 L219.02,240.50 L220.68,240.02 L222.34,239.53 L224.00,239.01" stroke="#7a3a2e"/>
<path d="M26.50,263.60 L28.16,262.81 L29.82,262.04 L31.48,261.28 L33.14,260.54 L34.80,259.82 L36.46,259.11 L38.12,258.42 L39.78,257.74 L41.44,257.08 L43.10,256.44 L44.76,255.80 L46.42,255.18 L48.08,254.58 L49.74,253.99 L51.39,253.41 L53.05,252.84 L54.71,252.29 L56.37,251.74 L58.03,251.21 L59.69,250.69 L61.35,250.17 L63.01,249.67 L64.67,249.18 L66.33,248.70 L67.99,248.22 L69.65,247.76 L71.31,247.30 L72.97,246.85 L74.63,246.40 L76.29,245.97 L77.95,245.54 L79.61,245.11 L81.27,244.69 L82.93,244.28 L84.59,243.87 L86.25,243.47 L87.91,243.07 L89.57,242.67 L91.23,242.28 L92.89,241.89 L94.55,241.51 L96.21,241.12 L97.87,240.74 L99.53,240.36 L101.18,239.98 L102.84,239.60 L104.50,239.22 L106.16,238.84 L107.82,238.46 L109.48,238.08 L111.14,237.70 L112.80,237.31 L114.46,236.93 L116.12,236.54 L117.78,236.15 L119.44,235.76 L121.10,235.36 L122.76,234.96 L124.42,234.55 L126.08,234.14 L127.74,233.73 L129.40,233.31 L131.06,232.88 L132.72,232.45 L134.38,232.01 L136.04,231.56 L137.70,231.10 L139.36,230.64 L141.02,230.17 L142.68,229.69 L144.34,229.21 L146.00,228.71 L147.66,228.20 L149.32,227.69 L150.97,227.16 L152.63,226.62 L154.29,226.07 L155.95,225.51 L157.61,224.94 L159.27,224.35 L160.93,223.75 L162.59,223.14 L164.25,222.52 L165.91,221.88 L167.57,221.23 L169.23,220.56 L170.89,219.87 L172.55,219.18 L174.21,218.46 L175.87,217.73 L177.53,216.98 L179.19,216.22 L180.85,215.44 L182.51,214.64 L184.17,213.82 L185.83,212.98 L187.49,212.13 L189.15,211.25 L190.81,210.36 L192.47,209.44 L194.13,208.51 L195.79,207.55 L197.45,206.58 L199.11,205.58 L200.76,204.56 L202.42,203.51 L204.08,202.45 L205.74,201.36 L207.40,200.25 L209.06,199.11 L210.72,197.95 L212.38,196.76 L214.04,195.55 L215.70,194.31 L217.36,193.05 L219.02,191.76 L220.68,190.45 L222.34,189.11 L224.00,187.74" stroke="#7a3a2e" stroke-width="1.2" stroke-dasharray="2.5,2.8"/>
<path d="M26.50,263.59 L28.16,263.11 L29.82,262.59 L31.48,262.06 L33.14,261.50 L34.80,260.92 L36.46,260.31 L38.12,259.68 L39.78,259.03 L41.44,258.35 L43.10,257.66 L44.76,256.94 L46.42,256.19 L48.08,255.43 L49.74,254.64 L51.39,253.83 L53.05,253.00 L54.71,252.15 L56.37,251.28 L58.03,250.38 L59.69,249.46 L61.35,248.53 L63.01,247.57 L64.67,246.59 L66.33,245.59 L67.99,244.57 L69.65,243.53 L71.31,242.47 L72.97,241.38 L74.63,240.28 L76.29,239.16 L77.95,238.02 L79.61,236.86 L81.27,235.68 L82.93,234.49 L84.59,233.27 L86.25,232.03 L87.91,230.78 L89.57,229.51 L91.23,228.21 L92.89,226.90 L94.55,225.58 L96.21,224.23 L97.87,222.87 L99.53,221.49 L101.18,220.09 L102.84,218.67 L104.50,217.24 L106.16,215.79 L107.82,214.32 L109.48,212.83 L111.14,211.33 L112.80,209.82 L114.46,208.28 L116.12,206.73 L117.78,205.17 L119.44,203.59 L121.10,201.99 L122.76,200.38 L124.42,198.75 L126.08,197.10 L127.74,195.44 L129.40,193.77 L131.06,192.08 L132.72,190.38 L134.38,188.66 L136.04,186.93 L137.70,185.18 L139.36,183.42 L141.02,181.65 L142.68,179.86 L144.34,178.05 L146.00,176.24 L147.66,174.41 L149.32,172.57 L150.97,170.71 L152.63,168.84 L154.29,166.96 L155.95,165.07 L157.61,163.16 L159.27,161.24 L160.93,159.31 L162.59,157.37 L164.25,155.42 L165.91,153.45 L167.57,151.47 L169.23,149.48 L170.89,147.48 L172.55,145.47 L174.21,143.45 L175.87,141.41 L177.53,139.37 L179.19,137.31 L180.85,135.25 L182.51,133.17 L184.17,131.09 L185.83,128.99 L187.49,126.89 L189.15,124.77 L190.81,122.65 L192.47,120.51 L194.13,118.37 L195.79,116.22 L197.45,114.06 L199.11,111.89 L200.76,109.71 L202.42,107.52 L204.08,105.33 L205.74,103.12 L207.40,100.91 L209.06,98.69 L210.72,96.46 L212.38,94.23 L214.04,91.99 L215.70,89.74 L217.36,87.48 L219.02,85.22 L220.68,82.95 L222.34,80.67 L224.00,78.39" stroke="#7a3a2e" stroke-width="1.15" stroke-dasharray="2.4,0.55"/>
<path d="M26.50,263.60 L28.16,262.88 L29.82,262.18 L31.48,261.49 L33.14,260.82 L34.80,260.17 L36.46,259.53 L38.12,258.91 L39.78,258.30 L41.44,257.71 L43.10,257.13 L44.76,256.57 L46.42,256.02 L48.08,255.48 L49.74,254.96 L51.39,254.45 L53.05,253.96 L54.71,253.48 L56.37,253.01 L58.03,252.55 L59.69,252.11 L61.35,251.68 L63.01,251.26 L64.67,250.85 L66.33,250.46 L67.99,250.07 L69.65,249.70 L71.31,249.34 L72.97,248.99 L74.63,248.64 L76.29,248.31 L77.95,247.99 L79.61,247.68 L81.27,247.38 L82.93,247.09 L84.59,246.80 L86.25,246.53 L87.91,246.26 L89.57,246.01 L91.23,245.76 L92.89,245.52 L94.55,245.28 L96.21,245.06 L97.87,244.84 L99.53,244.63 L101.18,244.43 L102.84,244.23 L104.50,244.04 L106.16,243.85 L107.82,243.67 L109.48,243.50 L111.14,243.33 L112.80,243.17 L114.46,243.01 L116.12,242.86 L117.78,242.71 L119.44,242.57 L121.10,242.43 L122.76,242.30 L124.42,242.17 L126.08,242.04 L127.74,241.92 L129.40,241.80 L131.06,241.68 L132.72,241.56 L134.38,241.45 L136.04,241.34 L137.70,241.23 L139.36,241.13 L141.02,241.02 L142.68,240.92 L144.34,240.81 L146.00,240.71 L147.66,240.61 L149.32,240.51 L150.97,240.41 L152.63,240.31 L154.29,240.21 L155.95,240.11 L157.61,240.01 L159.27,239.91 L160.93,239.80 L162.59,239.70 L164.25,239.59 L165.91,239.49 L167.57,239.38 L169.23,239.26 L170.89,239.15 L172.55,239.03 L174.21,238.91 L175.87,238.79 L177.53,238.66 L179.19,238.53 L180.85,238.40 L182.51,238.26 L184.17,238.12 L185.83,237.98 L187.49,237.83 L189.15,237.67 L190.81,237.51 L192.47,237.34 L194.13,237.17 L195.79,236.99 L197.45,236.81 L199.11,236.62 L200.76,236.43 L202.42,236.22 L204.08,236.02 L205.74,235.80 L207.40,235.58 L209.06,235.35 L210.72,235.11 L212.38,234.86 L214.04,234.61 L215.70,234.34 L217.36,234.07 L219.02,233.79 L220.68,233.50 L222.34,233.20 L224.00,232.89" stroke="#fde0c0"/>
<path d="M26.50,263.60 L28.16,262.84 L29.82,262.09 L31.48,261.35 L33.14,260.61 L34.80,259.89 L36.46,259.17 L38.12,258.46 L39.78,257.76 L41.44,257.07 L43.10,256.38 L44.76,255.70 L46.42,255.03 L48.08,254.36 L49.74,253.70 L51.39,253.04 L53.05,252.39 L54.71,251.75 L56.37,251.11 L58.03,250.48 L59.69,249.85 L61.35,249.22 L63.01,248.60 L64.67,247.98 L66.33,247.37 L67.99,246.76 L69.65,246.15 L71.31,245.55 L72.97,244.94 L74.63,244.34 L76.29,243.74 L77.95,243.15 L79.61,242.55 L81.27,241.96 L82.93,241.37 L84.59,240.77 L86.25,240.18 L87.91,239.59 L89.57,239.00 L91.23,238.40 L92.89,237.81 L94.55,237.22 L96.21,236.62 L97.87,236.02 L99.53,235.43 L101.18,234.82 L102.84,234.22 L104.50,233.62 L106.16,233.01 L107.82,232.40 L109.48,231.78 L111.14,231.17 L112.80,230.54 L114.46,229.92 L116.12,229.29 L117.78,228.65 L119.44,228.01 L121.10,227.37 L122.76,226.72 L124.42,226.06 L126.08,225.40 L127.74,224.73 L129.40,224.06 L131.06,223.38 L132.72,222.69 L134.38,222.00 L136.04,221.29 L137.70,220.58 L139.36,219.87 L141.02,219.14 L142.68,218.40 L144.34,217.66 L146.00,216.91 L147.66,216.15 L149.32,215.37 L150.97,214.59 L152.63,213.80 L154.29,213.00 L155.95,212.19 L157.61,211.36 L159.27,210.53 L160.93,209.68 L162.59,208.83 L164.25,207.96 L165.91,207.08 L167.57,206.18 L169.23,205.28 L170.89,204.36 L172.55,203.42 L174.21,202.48 L175.87,201.52 L177.53,200.54 L179.19,199.56 L180.85,198.55 L182.51,197.54 L184.17,196.50 L185.83,195.46 L187.49,194.39 L189.15,193.31 L190.81,192.22 L192.47,191.11 L194.13,189.98 L195.79,188.83 L197.45,187.67 L199.11,186.49 L200.76,185.29 L202.42,184.08 L204.08,182.85 L205.74,181.59 L207.40,180.32 L209.06,179.04 L210.72,177.73 L212.38,176.40 L214.04,175.05 L215.70,173.68 L217.36,172.30 L219.02,170.89 L220.68,169.46 L222.34,168.01 L224.00,166.54" stroke="#fde0c0" stroke-width="1.2" stroke-dasharray="2.5,2.8"/>
<path d="M26.50,263.60 L28.16,263.05 L29.82,262.48 L31.48,261.89 L33.14,261.27 L34.80,260.63 L36.46,259.97 L38.12,259.29 L39.78,258.58 L41.44,257.85 L43.10,257.10 L44.76,256.33 L46.42,255.53 L48.08,254.72 L49.74,253.88 L51.39,253.01 L53.05,252.13 L54.71,251.22 L56.37,250.30 L58.03,249.35 L59.69,248.38 L61.35,247.38 L63.01,246.37 L64.67,245.33 L66.33,244.28 L67.99,243.20 L69.65,242.10 L71.31,240.98 L72.97,239.84 L74.63,238.67 L76.29,237.49 L77.95,236.28 L79.61,235.06 L81.27,233.81 L82.93,232.54 L84.59,231.25 L86.25,229.95 L87.91,228.62 L89.57,227.27 L91.23,225.90 L92.89,224.51 L94.55,223.10 L96.21,221.67 L97.87,220.21 L99.53,218.74 L101.18,217.25 L102.84,215.74 L104.50,214.21 L106.16,212.66 L107.82,211.09 L109.48,209.50 L111.14,207.89 L112.80,206.26 L114.46,204.62 L116.12,202.95 L117.78,201.26 L119.44,199.56 L121.10,197.83 L122.76,196.09 L124.42,194.33 L126.08,192.54 L127.74,190.74 L129.40,188.92 L131.06,187.09 L132.72,185.23 L134.38,183.35 L136.04,181.46 L137.70,179.55 L139.36,177.62 L141.02,175.67 L142.68,173.70 L144.34,171.72 L146.00,169.71 L147.66,167.69 L149.32,165.65 L150.97,163.60 L152.63,161.52 L154.29,159.43 L155.95,157.32 L157.61,155.19 L159.27,153.04 L160.93,150.88 L162.59,148.70 L164.25,146.50 L165.91,144.29 L167.57,142.06 L169.23,139.81 L170.89,137.54 L172.55,135.26 L174.21,132.96 L175.87,130.64 L177.53,128.31 L179.19,125.96 L180.85,123.59 L182.51,121.21 L184.17,118.81 L185.83,116.39 L187.49,113.96 L189.15,111.51 L190.81,109.05 L192.47,106.56 L194.13,104.07 L195.79,101.55 L197.45,99.03 L199.11,96.48 L200.76,93.92 L202.42,91.34 L204.08,88.75 L205.74,86.14 L207.40,83.52 L209.06,80.88 L210.72,78.23 L212.38,75.56 L214.04,72.87 L215.70,70.17 L217.36,67.46 L219.02,64.73 L220.68,61.98 L222.34,59.22 L224.00,56.45" stroke="#fde0c0" stroke-width="1.15" stroke-dasharray="2.4,0.55"/>
</g>
<g clip-path="url(#cr)">
<path d="M274.50,263.60 L276.13,263.60 L277.77,263.59 L279.40,263.57 L281.03,263.54 L282.67,263.49 L284.30,263.43 L285.93,263.35 L287.57,263.25 L289.20,263.12 L290.83,262.97 L292.47,262.80 L294.10,262.60 L295.73,262.36 L297.37,262.10 L299.00,261.81 L300.63,261.48 L302.27,261.12 L303.90,260.72 L305.53,260.29 L307.17,259.82 L308.80,259.31 L310.43,258.77 L312.07,258.18 L313.70,257.56 L315.33,256.90 L316.97,256.20 L318.60,255.46 L320.23,254.68 L321.87,253.86 L323.50,253.00 L325.13,252.10 L326.77,251.16 L328.40,250.19 L330.03,249.17 L331.67,248.11 L333.30,247.02 L334.93,245.89 L336.57,244.72 L338.20,243.51 L339.83,242.27 L341.47,240.99 L343.10,239.67 L344.73,238.32 L346.37,236.94 L348.00,235.52 L349.63,234.07 L351.27,232.59 L352.90,231.08 L354.53,229.54 L356.17,227.97 L357.80,226.37 L359.43,224.74 L361.07,223.09 L362.70,221.41 L364.33,219.70 L365.97,217.98 L367.60,216.22 L369.23,214.45 L370.87,212.66 L372.50,210.84 L374.13,209.01 L375.77,207.16 L377.40,205.29 L379.03,203.40 L380.67,201.50 L382.30,199.58 L383.93,197.65 L385.57,195.70 L387.20,193.75 L388.83,191.78 L390.47,189.79 L392.10,187.80 L393.73,185.80 L395.37,183.79 L397.00,181.77 L398.63,179.74 L400.27,177.70 L401.90,175.66 L403.53,173.61 L405.17,171.55 L406.80,169.48 L408.43,167.41 L410.07,165.33 L411.70,163.24 L413.33,161.15 L414.97,159.05 L416.60,156.95 L418.23,154.84 L419.87,152.72 L421.50,150.59 L423.13,148.46 L424.77,146.31 L426.40,144.16 L428.03,142.00 L429.67,139.83 L431.30,137.64 L432.93,135.45 L434.57,133.24 L436.20,131.01 L437.83,128.77 L439.47,126.51 L441.10,124.23 L442.73,121.94 L444.37,119.62 L446.00,117.27 L447.63,114.90 L449.27,112.50 L450.90,110.07 L452.53,107.61 L454.17,105.12 L455.80,102.58 L457.43,100.01 L459.07,97.39 L460.70,94.73 L462.33,92.02 L463.97,89.25 L465.60,86.43 L467.23,83.55 L468.87,80.61 L471.10,77.60 L470.60,125.50 L469.10,126.43 L467.59,127.40 L466.09,128.40 L464.59,129.43 L463.09,130.48 L461.58,131.57 L460.08,132.68 L458.58,133.81 L457.08,134.97 L455.57,136.15 L454.07,137.35 L452.57,138.57 L451.07,139.81 L449.56,141.07 L448.06,142.37 L446.56,143.72 L445.06,145.12 L443.55,146.54 L442.05,148.00 L440.55,149.48 L439.05,150.97 L437.54,152.46 L436.04,153.96 L434.54,155.52 L433.04,157.10 L431.53,158.70 L430.03,160.29 L428.53,161.86 L427.03,163.37 L425.52,164.85 L424.02,166.32 L422.52,167.77 L421.02,169.21 L419.51,170.63 L418.01,172.03 L416.51,173.42 L415.01,174.78 L413.50,176.13 L411.70,177.45 L410.07,179.29 L408.43,181.13 L406.80,182.96 L405.17,184.79 L403.53,186.60 L401.90,188.42 L400.27,190.22 L398.63,192.02 L397.00,193.82 L395.37,195.60 L393.73,197.38 L392.10,199.15 L390.47,200.91 L388.83,202.66 L387.20,204.40 L385.57,206.13 L383.93,207.84 L382.30,209.55 L380.67,211.24 L379.03,212.92 L377.40,214.59 L375.77,216.24 L374.13,217.88 L372.50,219.50 L370.87,221.10 L369.23,222.69 L367.60,224.25 L365.97,225.80 L364.33,227.32 L362.70,228.83 L361.07,230.31 L359.43,231.77 L357.80,233.21 L356.17,234.62 L354.53,236.01 L352.90,237.37 L351.27,238.71 L349.63,240.02 L348.00,241.30 L346.37,242.55 L344.73,243.77 L343.10,244.96 L341.47,246.12 L339.83,247.25 L338.20,248.35 L336.57,249.42 L334.93,250.45 L333.30,251.45 L331.67,252.42 L330.03,253.35 L328.40,254.25 L326.77,255.12 L325.13,255.94 L323.50,256.74 L321.87,257.50 L320.23,258.22 L318.60,258.91 L316.97,259.56 L315.33,260.18 L313.70,260.77 L312.07,261.32 L310.43,261.83 L308.80,262.31 L307.17,262.76 L305.53,263.17 L303.90,263.55 L302.27,263.91 L300.63,264.23 L299.00,264.51 L297.37,264.78 L295.73,265.01 L294.10,265.21 L292.47,265.39 L290.83,265.55 L289.20,265.68 L287.57,265.79 L285.93,265.88 L284.30,265.95 L282.67,266.01 L281.03,266.05 L279.40,266.07 L277.77,266.09 L276.13,266.10 L274.50,266.10 Z" fill="#ffd3d3" stroke="none"/>
<path d="M330.03,249.93 L331.67,248.93 L333.30,247.89 L334.93,246.82 L336.57,245.71 L338.20,244.56 L339.83,243.39 L341.47,242.17 L343.10,240.93 L344.73,239.65 L346.37,238.34 L348.00,237.00 L349.63,235.62 L351.27,234.22 L352.90,232.79 L354.53,231.33 L356.17,229.84 L357.80,228.32 L359.43,226.78 L361.07,225.21 L362.70,223.62 L364.33,222.01 L365.97,220.37 L367.60,218.71 L369.23,217.03 L370.87,215.33 L372.50,213.61 L374.13,211.88 L375.77,210.12 L377.40,208.35 L379.03,206.56 L380.67,204.76 L382.30,202.94 L383.93,201.11 L385.57,199.27 L387.20,197.41 L388.83,195.55 L390.47,193.67 L392.10,191.78 L393.73,189.89 L395.37,187.98 L397.00,186.06 L398.63,184.14 L400.27,182.21 L401.90,180.27 L403.53,178.33 L405.17,176.38 L406.80,174.42 L408.43,172.46 L410.07,170.49 L411.70,168.51 L413.33,166.53 L414.97,164.54 L416.60,162.55 L418.23,160.55 L419.87,158.54 L421.50,156.52 L423.13,154.50 L424.77,152.47 L426.40,150.43 L428.03,148.38 L429.67,146.33 L431.30,144.26 L432.93,142.17 L434.57,140.08 L436.20,137.97 L437.83,135.85 L439.47,133.71 L441.10,131.55 L442.73,129.37 L444.37,127.17 L446.00,124.95 L447.63,122.71 L449.27,120.43 L450.90,118.13 L452.53,115.80 L454.17,113.44 L455.80,111.04 L457.43,108.60 L459.07,106.12 L460.70,103.59 L462.33,101.02 L463.97,98.40 L465.60,95.73 L467.23,93.00 L468.87,90.22 L471.10,87.37" fill="none" stroke="#e8b0b0" stroke-width="0.7" stroke-dasharray="2,2"/>
<path d="M361.07,229.06 L362.70,227.58 L364.33,226.07 L365.97,224.55 L367.60,223.00 L369.23,221.44 L370.87,219.85 L372.50,218.25 L374.13,216.63 L375.77,214.99 L377.40,213.34 L379.03,211.67 L380.67,209.99 L382.30,208.30 L383.93,206.59 L385.57,204.88 L387.20,203.15 L388.83,201.41 L390.47,199.66 L392.10,197.90 L393.73,196.13 L395.37,194.35 L397.00,192.57 L398.63,190.77 L400.27,188.97 L401.90,187.17 L403.53,185.35 L405.17,183.54 L406.80,181.71 L408.43,179.88 L410.07,178.04 L411.70,176.20 L413.33,174.68 L414.97,173.03 L416.60,171.36 L418.23,169.67 L419.87,167.97 L421.50,166.26 L423.13,164.53 L424.77,162.80 L426.40,161.04 L428.03,159.27 L429.67,157.47 L431.30,155.64 L432.93,153.80 L434.57,151.97 L436.20,150.14 L437.83,148.34 L439.47,146.53 L441.10,144.71 L442.73,142.90 L444.37,141.09 L446.00,139.29 L447.63,137.50 L449.27,135.73 L450.90,133.97 L452.53,132.21 L454.17,130.44 L455.80,128.67 L457.43,126.90 L459.07,125.11 L460.70,123.33 L462.33,121.53 L463.97,119.73 L465.60,117.92 L467.23,116.10 L468.87,114.27 L471.10,112.40" fill="none" stroke="#e8b0b0" stroke-width="0.7" stroke-dasharray="2,2"/>
<path d="M274.50,263.60 L276.13,263.60 L277.77,263.58 L279.40,263.56 L281.03,263.53 L282.67,263.49 L284.30,263.44 L285.93,263.38 L287.57,263.31 L289.20,263.24 L290.83,263.15 L292.47,263.06 L294.10,262.96 L295.73,262.85 L297.37,262.73 L299.00,262.60 L300.63,262.46 L302.27,262.32 L303.90,262.17 L305.53,262.00 L307.17,261.83 L308.80,261.65 L310.43,261.46 L312.07,261.27 L313.70,261.06 L315.33,260.84 L316.97,260.62 L318.60,260.39 L320.23,260.15 L321.87,259.90 L323.50,259.64 L325.13,259.37 L326.77,259.10 L328.40,258.82 L330.03,258.52 L331.67,258.22 L333.30,257.91 L334.93,257.59 L336.57,257.26 L338.20,256.93 L339.83,256.58 L341.47,256.22 L343.10,255.86 L344.73,255.49 L346.37,255.11 L348.00,254.72 L349.63,254.32 L351.27,253.91 L352.90,253.49 L354.53,253.06 L356.17,252.63 L357.80,252.18 L359.43,251.72 L361.07,251.26 L362.70,250.79 L364.33,250.30 L365.97,249.81 L367.60,249.31 L369.23,248.80 L370.87,248.28 L372.50,247.75 L374.13,247.20 L375.77,246.65 L377.40,246.09 L379.03,245.52 L380.67,244.94 L382.30,244.35 L383.93,243.75 L385.57,243.14 L387.20,242.52 L388.83,241.89 L390.47,241.25 L392.10,240.60 L393.73,239.93 L395.37,239.26 L397.00,238.58 L398.63,237.88 L400.27,237.18 L401.90,236.46 L403.53,235.73 L405.17,234.99 L406.80,234.24 L408.43,233.48 L410.07,232.71 L411.70,231.93 L413.33,231.13 L414.97,230.32 L416.60,229.50 L418.23,228.67 L419.87,227.83 L421.50,226.98 L423.13,226.11 L424.77,225.23 L426.40,224.34 L428.03,223.44 L429.67,222.52 L431.30,221.59 L432.93,220.65 L434.57,219.70 L436.20,218.73 L437.83,217.75 L439.47,216.75 L441.10,215.75 L442.73,214.73 L444.37,213.69 L446.00,212.65 L447.63,211.58 L449.27,210.51 L450.90,209.42 L452.53,208.32 L454.17,207.20 L455.80,206.06 L457.43,204.92 L459.07,203.76 L460.70,202.58 L462.33,201.39 L463.97,200.18 L465.60,198.96 L467.23,197.72 L468.87,196.47 L471.10,195.20 L470.60,221.50 L469.20,222.06 L467.80,222.61 L466.40,223.16 L465.00,223.71 L463.60,224.25 L462.20,224.78 L460.80,225.31 L459.40,225.84 L458.00,226.36 L456.60,226.88 L455.20,227.39 L453.80,227.90 L452.40,228.40 L451.00,228.90 L449.60,229.40 L448.20,229.89 L446.80,230.38 L445.40,230.86 L444.00,231.34 L442.60,231.82 L441.20,232.28 L439.80,232.75 L438.40,233.21 L437.00,233.66 L435.60,234.11 L434.20,234.55 L432.80,234.99 L431.40,235.42 L429.67,235.85 L428.03,236.47 L426.40,237.08 L424.77,237.68 L423.13,238.28 L421.50,238.86 L419.87,239.44 L418.23,240.01 L416.60,240.57 L414.97,241.12 L413.33,241.67 L411.70,242.21 L410.07,242.74 L408.43,243.26 L406.80,243.77 L405.17,244.28 L403.53,244.78 L401.90,245.27 L400.27,245.75 L398.63,246.23 L397.00,246.70 L395.37,247.16 L393.73,247.61 L392.10,248.06 L390.47,248.50 L388.83,248.94 L387.20,249.36 L385.57,249.78 L383.93,250.19 L382.30,250.60 L380.67,251.00 L379.03,251.39 L377.40,251.78 L375.77,252.15 L374.13,252.53 L372.50,252.89 L370.87,253.25 L369.23,253.60 L367.60,253.95 L365.97,254.29 L364.33,254.62 L362.70,254.95 L361.07,255.27 L359.43,255.58 L357.80,255.89 L356.17,256.19 L354.53,256.48 L352.90,256.77 L351.27,257.05 L349.63,257.33 L348.00,257.60 L346.37,257.86 L344.73,258.12 L343.10,258.37 L341.47,258.62 L339.83,258.86 L338.20,259.09 L336.57,259.32 L334.93,259.54 L333.30,259.76 L331.67,259.97 L330.03,260.17 L328.40,260.37 L326.77,260.56 L325.13,260.75 L323.50,260.93 L321.87,261.10 L320.23,261.27 L318.60,261.43 L316.97,261.59 L315.33,261.74 L313.70,261.88 L312.07,262.02 L310.43,262.16 L308.80,262.28 L307.17,262.41 L305.53,262.52 L303.90,262.63 L302.27,262.74 L300.63,262.83 L299.00,262.93 L297.37,263.01 L295.73,263.09 L294.10,263.17 L292.47,263.24 L290.83,263.30 L289.20,263.36 L287.57,263.41 L285.93,263.45 L284.30,263.49 L282.67,263.52 L281.03,263.55 L279.40,263.57 L277.77,263.59 L276.13,263.60 L274.50,263.60 Z" fill="#dfeccf" stroke="none"/>
<path d="M361.07,253.86 L362.70,253.49 L364.33,253.11 L365.97,252.72 L367.60,252.32 L369.23,251.92 L370.87,251.51 L372.50,251.09 L374.13,250.66 L375.77,250.23 L377.40,249.79 L379.03,249.34 L380.67,248.88 L382.30,248.41 L383.93,247.94 L385.57,247.46 L387.20,246.97 L388.83,246.47 L390.47,245.96 L392.10,245.45 L393.73,244.93 L395.37,244.39 L397.00,243.85 L398.63,243.31 L400.27,242.75 L401.90,242.18 L403.53,241.61 L405.17,241.03 L406.80,240.44 L408.43,239.84 L410.07,239.23 L411.70,238.61 L413.33,237.98 L414.97,237.34 L416.60,236.70 L418.23,236.04 L419.87,235.38 L421.50,234.70 L423.13,234.02 L424.77,233.33 L426.40,232.62 L428.03,231.91 L429.67,231.19 L431.30,230.45 L432.93,229.71 L434.57,228.96 L436.20,228.20 L437.83,227.42 L439.47,226.64 L441.10,225.84 L442.73,225.04 L444.37,224.22 L446.00,223.40 L447.63,222.56 L449.27,221.71 L450.90,220.85 L452.53,219.98 L454.17,219.10 L455.80,218.20 L457.43,217.30 L459.07,216.38 L460.70,215.45 L462.33,214.51 L463.97,213.56 L465.60,212.60 L467.23,211.62 L468.87,210.63 L471.10,209.63" fill="none" stroke="#c8d6b8" stroke-width="0.7" stroke-dasharray="2,2"/>
<path d="M361.07,252.38 L362.70,251.95 L364.33,251.51 L365.97,251.06 L367.60,250.61 L369.23,250.14 L370.87,249.67 L372.50,249.19 L374.13,248.69 L375.77,248.19 L377.40,247.68 L379.03,247.17 L380.67,246.64 L382.30,246.10 L383.93,245.56 L385.57,245.00 L387.20,244.44 L388.83,243.86 L390.47,243.28 L392.10,242.69 L393.73,242.08 L395.37,241.47 L397.00,240.85 L398.63,240.22 L400.27,239.58 L401.90,238.93 L403.53,238.26 L405.17,237.59 L406.80,236.91 L408.43,236.22 L410.07,235.52 L411.70,234.80 L413.33,234.08 L414.97,233.35 L416.60,232.60 L418.23,231.85 L419.87,231.08 L421.50,230.31 L423.13,229.52 L424.77,228.72 L426.40,227.91 L428.03,227.09 L429.67,226.25 L431.30,225.41 L432.93,224.55 L434.57,223.69 L436.20,222.81 L437.83,221.92 L439.47,221.01 L441.10,220.10 L442.73,219.17 L444.37,218.23 L446.00,217.28 L447.63,216.31 L449.27,215.33 L450.90,214.34 L452.53,213.34 L454.17,212.32 L455.80,211.29 L457.43,210.25 L459.07,209.19 L460.70,208.12 L462.33,207.04 L463.97,205.94 L465.60,204.83 L467.23,203.71 L468.87,202.57 L471.10,201.42" fill="none" stroke="#c8d6b8" stroke-width="0.7" stroke-dasharray="2,2"/>
<g fill="none" stroke-width="1.25">
<path d="M274.50,263.60 L276.13,263.60 L277.77,263.60 L279.40,263.60 L281.03,263.60 L282.67,263.60 L284.30,263.60 L285.93,263.59 L287.57,263.59 L289.20,263.59 L290.83,263.58 L292.47,263.58 L294.10,263.58 L295.73,263.57 L297.37,263.57 L299.00,263.56 L300.63,263.55 L302.27,263.55 L303.90,263.54 L305.53,263.53 L307.17,263.52 L308.80,263.51 L310.43,263.50 L312.07,263.49 L313.70,263.48 L315.33,263.47 L316.97,263.45 L318.60,263.44 L320.23,263.42 L321.87,263.41 L323.50,263.39 L325.13,263.38 L326.77,263.36 L328.40,263.34 L330.03,263.32 L331.67,263.31 L333.30,263.29 L334.93,263.27 L336.57,263.24 L338.20,263.22 L339.83,263.20 L341.47,263.18 L343.10,263.15 L344.73,263.13 L346.37,263.10 L348.00,263.08 L349.63,263.05 L351.27,263.03 L352.90,263.00 L354.53,262.97 L356.17,262.94 L357.80,262.92 L359.43,262.89 L361.07,262.86 L362.70,262.83 L364.33,262.80 L365.97,262.76 L367.60,262.73 L369.23,262.70 L370.87,262.67 L372.50,262.63 L374.13,262.60 L375.77,262.57 L377.40,262.53 L379.03,262.50 L380.67,262.46 L382.30,262.43 L383.93,262.39 L385.57,262.36 L387.20,262.32 L388.83,262.28 L390.47,262.25 L392.10,262.21 L393.73,262.17 L395.37,262.13 L397.00,262.10 L398.63,262.06 L400.27,262.02 L401.90,261.98 L403.53,261.94 L405.17,261.90 L406.80,261.86 L408.43,261.82 L410.07,261.78 L411.70,261.74 L413.33,261.70 L414.97,261.66 L416.60,261.62 L418.23,261.57 L419.87,261.53 L421.50,261.49 L423.13,261.45 L424.77,261.41 L426.40,261.36 L428.03,261.32 L429.67,261.27 L431.30,261.23 L432.93,261.19 L434.57,261.14 L436.20,261.10 L437.83,261.05 L439.47,261.00 L441.10,260.96 L442.73,260.91 L444.37,260.86 L446.00,260.81 L447.63,260.76 L449.27,260.71 L450.90,260.66 L452.53,260.61 L454.17,260.56 L455.80,260.51 L457.43,260.46 L459.07,260.40 L460.70,260.35 L462.33,260.29 L463.97,260.24 L465.60,260.18 L467.23,260.12 L468.87,260.06 L471.10,260.00" stroke="#3a8ad0"/>
<path d="M274.50,263.60 L276.13,263.60 L277.77,263.60 L279.40,263.60 L281.03,263.59 L282.67,263.59 L284.30,263.58 L285.93,263.58 L287.57,263.57 L289.20,263.56 L290.83,263.55 L292.47,263.53 L294.10,263.52 L295.73,263.50 L297.37,263.49 L299.00,263.47 L300.63,263.44 L302.27,263.42 L303.90,263.39 L305.53,263.36 L307.17,263.33 L308.80,263.30 L310.43,263.27 L312.07,263.23 L313.70,263.19 L315.33,263.15 L316.97,263.10 L318.60,263.06 L320.23,263.01 L321.87,262.96 L323.50,262.91 L325.13,262.85 L326.77,262.79 L328.40,262.74 L330.03,262.67 L331.67,262.61 L333.30,262.54 L334.93,262.47 L336.57,262.40 L338.20,262.33 L339.83,262.26 L341.47,262.18 L343.10,262.10 L344.73,262.02 L346.37,261.94 L348.00,261.85 L349.63,261.76 L351.27,261.67 L352.90,261.58 L354.53,261.49 L356.17,261.39 L357.80,261.30 L359.43,261.20 L361.07,261.10 L362.70,261.00 L364.33,260.90 L365.97,260.79 L367.60,260.68 L369.23,260.58 L370.87,260.47 L372.50,260.36 L374.13,260.24 L375.77,260.13 L377.40,260.02 L379.03,259.90 L380.67,259.78 L382.30,259.66 L383.93,259.54 L385.57,259.42 L387.20,259.30 L388.83,259.18 L390.47,259.05 L392.10,258.93 L393.73,258.80 L395.37,258.67 L397.00,258.55 L398.63,258.42 L400.27,258.29 L401.90,258.15 L403.53,258.02 L405.17,257.89 L406.80,257.76 L408.43,257.62 L410.07,257.49 L411.70,257.35 L413.33,257.21 L414.97,257.07 L416.60,256.93 L418.23,256.79 L419.87,256.65 L421.50,256.51 L423.13,256.37 L424.77,256.22 L426.40,256.08 L428.03,255.93 L429.67,255.78 L431.30,255.63 L432.93,255.48 L434.57,255.33 L436.20,255.18 L437.83,255.03 L439.47,254.87 L441.10,254.71 L442.73,254.56 L444.37,254.39 L446.00,254.23 L447.63,254.07 L449.27,253.90 L450.90,253.73 L452.53,253.56 L454.17,253.39 L455.80,253.21 L457.43,253.04 L459.07,252.86 L460.70,252.67 L462.33,252.48 L463.97,252.29 L465.60,252.10 L467.23,251.90 L468.87,251.70 L471.10,251.50" stroke="#e05a28"/>
<path d="M274.50,263.60 L276.13,263.60 L277.77,263.60 L279.40,263.59 L281.03,263.59 L282.67,263.58 L284.30,263.57 L285.93,263.55 L287.57,263.54 L289.20,263.52 L290.83,263.49 L292.47,263.46 L294.10,263.43 L295.73,263.40 L297.37,263.36 L299.00,263.32 L300.63,263.27 L302.27,263.22 L303.90,263.17 L305.53,263.11 L307.17,263.05 L308.80,262.98 L310.43,262.91 L312.07,262.83 L313.70,262.75 L315.33,262.66 L316.97,262.57 L318.60,262.48 L320.23,262.38 L321.87,262.27 L323.50,262.16 L325.13,262.05 L326.77,261.93 L328.40,261.81 L330.03,261.68 L331.67,261.54 L333.30,261.41 L334.93,261.27 L336.57,261.12 L338.20,260.97 L339.83,260.81 L341.47,260.65 L343.10,260.49 L344.73,260.32 L346.37,260.15 L348.00,259.97 L349.63,259.79 L351.27,259.60 L352.90,259.41 L354.53,259.22 L356.17,259.03 L357.80,258.83 L359.43,258.62 L361.07,258.41 L362.70,258.20 L364.33,257.99 L365.97,257.77 L367.60,257.55 L369.23,257.33 L370.87,257.10 L372.50,256.87 L374.13,256.64 L375.77,256.40 L377.40,256.16 L379.03,255.92 L380.67,255.68 L382.30,255.43 L383.93,255.19 L385.57,254.93 L387.20,254.68 L388.83,254.43 L390.47,254.17 L392.10,253.91 L393.73,253.65 L395.37,253.38 L397.00,253.12 L398.63,252.85 L400.27,252.58 L401.90,252.30 L403.53,252.03 L405.17,251.76 L406.80,251.48 L408.43,251.20 L410.07,250.92 L411.70,250.63 L413.33,250.35 L414.97,250.06 L416.60,249.77 L418.23,249.48 L419.87,249.19 L421.50,248.89 L423.13,248.60 L424.77,248.30 L426.40,248.00 L428.03,247.69 L429.67,247.39 L431.30,247.08 L432.93,246.77 L434.57,246.45 L436.20,246.14 L437.83,245.82 L439.47,245.49 L441.10,245.17 L442.73,244.84 L444.37,244.50 L446.00,244.17 L447.63,243.83 L449.27,243.48 L450.90,243.13 L452.53,242.78 L454.17,242.42 L455.80,242.06 L457.43,241.69 L459.07,241.31 L460.70,240.93 L462.33,240.54 L463.97,240.15 L465.60,239.75 L467.23,239.34 L468.87,238.92 L471.10,238.50" stroke="#f0b030"/>
<path d="M274.50,263.60 L276.13,263.60 L277.77,263.59 L279.40,263.57 L281.03,263.55 L282.67,263.52 L284.30,263.49 L285.93,263.45 L287.57,263.41 L289.20,263.36 L290.83,263.30 L292.47,263.24 L294.10,263.17 L295.73,263.09 L297.37,263.01 L299.00,262.93 L300.63,262.83 L302.27,262.74 L303.90,262.63 L305.53,262.52 L307.17,262.41 L308.80,262.28 L310.43,262.16 L312.07,262.02 L313.70,261.88 L315.33,261.74 L316.97,261.59 L318.60,261.43 L320.23,261.27 L321.87,261.10 L323.50,260.93 L325.13,260.75 L326.77,260.56 L328.40,260.37 L330.03,260.17 L331.67,259.97 L333.30,259.76 L334.93,259.54 L336.57,259.32 L338.20,259.09 L339.83,258.86 L341.47,258.62 L343.10,258.37 L344.73,258.12 L346.37,257.86 L348.00,257.60 L349.63,257.33 L351.27,257.05 L352.90,256.77 L354.53,256.48 L356.17,256.19 L357.80,255.89 L359.43,255.58 L361.07,255.27 L362.70,254.95 L364.33,254.62 L365.97,254.29 L367.60,253.95 L369.23,253.60 L370.87,253.25 L372.50,252.89 L374.13,252.53 L375.77,252.15 L377.40,251.78 L379.03,251.39 L380.67,251.00 L382.30,250.60 L383.93,250.19 L385.57,249.78 L387.20,249.36 L388.83,248.94 L390.47,248.50 L392.10,248.06 L393.73,247.61 L395.37,247.16 L397.00,246.70 L398.63,246.23 L400.27,245.75 L401.90,245.27 L403.53,244.78 L405.17,244.28 L406.80,243.77 L408.43,243.26 L410.07,242.74 L411.70,242.21 L413.33,241.67 L414.97,241.12 L416.60,240.57 L418.23,240.01 L419.87,239.44 L421.50,238.86 L423.13,238.28 L424.77,237.68 L426.40,237.08 L428.03,236.47 L429.67,235.85 L431.30,235.23 L432.93,234.59 L434.57,233.95 L436.20,233.29 L437.83,232.63 L439.47,231.96 L441.10,231.28 L442.73,230.59 L444.37,229.89 L446.00,229.18 L447.63,228.47 L449.27,227.74 L450.90,227.00 L452.53,226.26 L454.17,225.50 L455.80,224.74 L457.43,223.96 L459.07,223.18 L460.70,222.38 L462.33,221.58 L463.97,220.76 L465.60,219.94 L467.23,219.10 L468.87,218.26 L471.10,217.40" stroke="#9040b0"/>
<path d="M274.50,263.60 L276.13,263.60 L277.77,263.58 L279.40,263.56 L281.03,263.53 L282.67,263.49 L284.30,263.44 L285.93,263.38 L287.57,263.31 L289.20,263.24 L290.83,263.15 L292.47,263.06 L294.10,262.96 L295.73,262.85 L297.37,262.73 L299.00,262.60 L300.63,262.46 L302.27,262.32 L303.90,262.17 L305.53,262.00 L307.17,261.83 L308.80,261.65 L310.43,261.46 L312.07,261.27 L313.70,261.06 L315.33,260.84 L316.97,260.62 L318.60,260.39 L320.23,260.15 L321.87,259.90 L323.50,259.64 L325.13,259.37 L326.77,259.10 L328.40,258.82 L330.03,258.52 L331.67,258.22 L333.30,257.91 L334.93,257.59 L336.57,257.26 L338.20,256.93 L339.83,256.58 L341.47,256.22 L343.10,255.86 L344.73,255.49 L346.37,255.11 L348.00,254.72 L349.63,254.32 L351.27,253.91 L352.90,253.49 L354.53,253.06 L356.17,252.63 L357.80,252.18 L359.43,251.72 L361.07,251.26 L362.70,250.79 L364.33,250.30 L365.97,249.81 L367.60,249.31 L369.23,248.80 L370.87,248.28 L372.50,247.75 L374.13,247.20 L375.77,246.65 L377.40,246.09 L379.03,245.52 L380.67,244.94 L382.30,244.35 L383.93,243.75 L385.57,243.14 L387.20,242.52 L388.83,241.89 L390.47,241.25 L392.10,240.60 L393.73,239.93 L395.37,239.26 L397.00,238.58 L398.63,237.88 L400.27,237.18 L401.90,236.46 L403.53,235.73 L405.17,234.99 L406.80,234.24 L408.43,233.48 L410.07,232.71 L411.70,231.93 L413.33,231.13 L414.97,230.32 L416.60,229.50 L418.23,228.67 L419.87,227.83 L421.50,226.98 L423.13,226.11 L424.77,225.23 L426.40,224.34 L428.03,223.44 L429.67,222.52 L431.30,221.59 L432.93,220.65 L434.57,219.70 L436.20,218.73 L437.83,217.75 L439.47,216.75 L441.10,215.75 L442.73,214.73 L444.37,213.69 L446.00,212.65 L447.63,211.58 L449.27,210.51 L450.90,209.42 L452.53,208.32 L454.17,207.20 L455.80,206.06 L457.43,204.92 L459.07,203.76 L460.70,202.58 L462.33,201.39 L463.97,200.18 L465.60,198.96 L467.23,197.72 L468.87,196.47 L471.10,195.20" stroke="#8cbf5a"/>
<path d="M274.50,263.60 L276.13,263.60 L277.77,263.59 L279.40,263.59 L281.03,263.57 L282.67,263.55 L284.30,263.52 L285.93,263.48 L287.57,263.43 L289.20,263.37 L290.83,263.30 L292.47,263.22 L294.10,263.12 L295.73,263.01 L297.37,262.88 L299.00,262.74 L300.63,262.58 L302.27,262.41 L303.90,262.22 L305.53,262.01 L307.17,261.79 L308.80,261.55 L310.43,261.28 L312.07,261.01 L313.70,260.71 L315.33,260.39 L316.97,260.06 L318.60,259.70 L320.23,259.33 L321.87,258.93 L323.50,258.52 L325.13,258.09 L326.77,257.64 L328.40,257.17 L330.03,256.69 L331.67,256.18 L333.30,255.66 L334.93,255.11 L336.57,254.55 L338.20,253.98 L339.83,253.38 L341.47,252.77 L343.10,252.14 L344.73,251.49 L346.37,250.83 L348.00,250.15 L349.63,249.46 L351.27,248.75 L352.90,248.02 L354.53,247.28 L356.17,246.53 L357.80,245.76 L359.43,244.98 L361.07,244.19 L362.70,243.39 L364.33,242.57 L365.97,241.74 L367.60,240.91 L369.23,240.06 L370.87,239.20 L372.50,238.33 L374.13,237.45 L375.77,236.56 L377.40,235.67 L379.03,234.76 L380.67,233.85 L382.30,232.93 L383.93,232.01 L385.57,231.08 L387.20,230.14 L388.83,229.19 L390.47,228.25 L392.10,227.29 L393.73,226.33 L395.37,225.37 L397.00,224.40 L398.63,223.43 L400.27,222.45 L401.90,221.47 L403.53,220.49 L405.17,219.50 L406.80,218.51 L408.43,217.52 L410.07,216.53 L411.70,215.53 L413.33,214.52 L414.97,213.52 L416.60,212.51 L418.23,211.50 L419.87,210.48 L421.50,209.47 L423.13,208.44 L424.77,207.42 L426.40,206.39 L428.03,205.35 L429.67,204.31 L431.30,203.26 L432.93,202.21 L434.57,201.15 L436.20,200.09 L437.83,199.01 L439.47,197.93 L441.10,196.84 L442.73,195.74 L444.37,194.63 L446.00,193.50 L447.63,192.37 L449.27,191.22 L450.90,190.06 L452.53,188.88 L454.17,187.68 L455.80,186.47 L457.43,185.23 L459.07,183.98 L460.70,182.70 L462.33,181.41 L463.97,180.08 L465.60,178.73 L467.23,177.35 L468.87,175.94 L471.10,174.50" stroke="#60c0f0"/>
<path d="M274.50,263.60 L276.13,263.60 L277.77,263.59 L279.40,263.58 L281.03,263.56 L282.67,263.53 L284.30,263.50 L285.93,263.45 L287.57,263.38 L289.20,263.31 L290.83,263.22 L292.47,263.11 L294.10,262.98 L295.73,262.84 L297.37,262.68 L299.00,262.50 L300.63,262.30 L302.27,262.07 L303.90,261.83 L305.53,261.56 L307.17,261.28 L308.80,260.96 L310.43,260.63 L312.07,260.27 L313.70,259.89 L315.33,259.48 L316.97,259.05 L318.60,258.60 L320.23,258.12 L321.87,257.62 L323.50,257.09 L325.13,256.53 L326.77,255.96 L328.40,255.36 L330.03,254.73 L331.67,254.08 L333.30,253.41 L334.93,252.71 L336.57,252.00 L338.20,251.25 L339.83,250.49 L341.47,249.70 L343.10,248.90 L344.73,248.07 L346.37,247.22 L348.00,246.35 L349.63,245.45 L351.27,244.54 L352.90,243.62 L354.53,242.67 L356.17,241.70 L357.80,240.72 L359.43,239.72 L361.07,238.70 L362.70,237.67 L364.33,236.62 L365.97,235.56 L367.60,234.49 L369.23,233.40 L370.87,232.29 L372.50,231.18 L374.13,230.05 L375.77,228.91 L377.40,227.77 L379.03,226.61 L380.67,225.44 L382.30,224.26 L383.93,223.07 L385.57,221.88 L387.20,220.67 L388.83,219.46 L390.47,218.25 L392.10,217.02 L393.73,215.79 L395.37,214.55 L397.00,213.31 L398.63,212.07 L400.27,210.81 L401.90,209.56 L403.53,208.30 L405.17,207.03 L406.80,205.76 L408.43,204.49 L410.07,203.21 L411.70,201.93 L413.33,200.64 L414.97,199.35 L416.60,198.06 L418.23,196.76 L419.87,195.46 L421.50,194.15 L423.13,192.84 L424.77,191.53 L426.40,190.20 L428.03,188.88 L429.67,187.54 L431.30,186.20 L432.93,184.85 L434.57,183.49 L436.20,182.12 L437.83,180.74 L439.47,179.36 L441.10,177.96 L442.73,176.55 L444.37,175.12 L446.00,173.68 L447.63,172.22 L449.27,170.75 L450.90,169.26 L452.53,167.74 L454.17,166.21 L455.80,164.65 L457.43,163.07 L459.07,161.46 L460.70,159.83 L462.33,158.16 L463.97,156.46 L465.60,154.73 L467.23,152.96 L468.87,151.15 L471.10,149.30" stroke="#a02040"/>
<path d="M274.50,263.60 L276.13,263.60 L277.77,263.59 L279.40,263.58 L281.03,263.55 L282.67,263.52 L284.30,263.48 L285.93,263.42 L287.57,263.34 L289.20,263.25 L290.83,263.14 L292.47,263.01 L294.10,262.86 L295.73,262.69 L297.37,262.50 L299.00,262.28 L300.63,262.04 L302.27,261.77 L303.90,261.48 L305.53,261.16 L307.17,260.81 L308.80,260.44 L310.43,260.04 L312.07,259.61 L313.70,259.15 L315.33,258.67 L316.97,258.15 L318.60,257.60 L320.23,257.03 L321.87,256.43 L323.50,255.79 L325.13,255.13 L326.77,254.44 L328.40,253.72 L330.03,252.97 L331.67,252.19 L333.30,251.39 L334.93,250.55 L336.57,249.69 L338.20,248.80 L339.83,247.89 L341.47,246.94 L343.10,245.97 L344.73,244.98 L346.37,243.96 L348.00,242.92 L349.63,241.85 L351.27,240.76 L352.90,239.65 L354.53,238.51 L356.17,237.35 L357.80,236.18 L359.43,234.98 L361.07,233.76 L362.70,232.52 L364.33,231.27 L365.97,229.99 L367.60,228.70 L369.23,227.40 L370.87,226.08 L372.50,224.74 L374.13,223.39 L375.77,222.03 L377.40,220.65 L379.03,219.26 L380.67,217.86 L382.30,216.45 L383.93,215.02 L385.57,213.59 L387.20,212.15 L388.83,210.70 L390.47,209.24 L392.10,207.77 L393.73,206.30 L395.37,204.81 L397.00,203.33 L398.63,201.83 L400.27,200.33 L401.90,198.83 L403.53,197.31 L405.17,195.80 L406.80,194.28 L408.43,192.75 L410.07,191.22 L411.70,189.68 L413.33,188.14 L414.97,186.60 L416.60,185.05 L418.23,183.49 L419.87,181.93 L421.50,180.36 L423.13,178.79 L424.77,177.21 L426.40,175.63 L428.03,174.03 L429.67,172.43 L431.30,170.83 L432.93,169.21 L434.57,167.58 L436.20,165.94 L437.83,164.29 L439.47,162.63 L441.10,160.95 L442.73,159.26 L444.37,157.55 L446.00,155.82 L447.63,154.07 L449.27,152.31 L450.90,150.52 L452.53,148.71 L454.17,146.87 L455.80,145.00 L457.43,143.10 L459.07,141.18 L460.70,139.22 L462.33,137.22 L463.97,135.18 L465.60,133.10 L467.23,130.98 L468.87,128.82 L471.10,126.60" stroke="#f8cc20"/>
<path d="M274.50,263.60 L276.13,263.60 L277.77,263.59 L279.40,263.57 L281.03,263.55 L282.67,263.51 L284.30,263.45 L285.93,263.38 L287.57,263.29 L289.20,263.18 L290.83,263.05 L292.47,262.89 L294.10,262.71 L295.73,262.51 L297.37,262.28 L299.00,262.01 L300.63,261.73 L302.27,261.41 L303.90,261.05 L305.53,260.67 L307.17,260.26 L308.80,259.81 L310.43,259.33 L312.07,258.82 L313.70,258.27 L315.33,257.68 L316.97,257.06 L318.60,256.41 L320.23,255.72 L321.87,255.00 L323.50,254.24 L325.13,253.44 L326.77,252.62 L328.40,251.75 L330.03,250.85 L331.67,249.92 L333.30,248.95 L334.93,247.95 L336.57,246.92 L338.20,245.85 L339.83,244.75 L341.47,243.62 L343.10,242.46 L344.73,241.27 L346.37,240.05 L348.00,238.80 L349.63,237.52 L351.27,236.21 L352.90,234.87 L354.53,233.51 L356.17,232.12 L357.80,230.71 L359.43,229.27 L361.07,227.81 L362.70,226.33 L364.33,224.82 L365.97,223.30 L367.60,221.75 L369.23,220.19 L370.87,218.60 L372.50,217.00 L374.13,215.38 L375.77,213.74 L377.40,212.09 L379.03,210.42 L380.67,208.74 L382.30,207.05 L383.93,205.34 L385.57,203.63 L387.20,201.90 L388.83,200.16 L390.47,198.41 L392.10,196.65 L393.73,194.88 L395.37,193.10 L397.00,191.32 L398.63,189.52 L400.27,187.72 L401.90,185.92 L403.53,184.10 L405.17,182.29 L406.80,180.46 L408.43,178.63 L410.07,176.79 L411.70,174.95 L413.33,173.10 L414.97,171.25 L416.60,169.39 L418.23,167.53 L419.87,165.65 L421.50,163.78 L423.13,161.89 L424.77,160.00 L426.40,158.10 L428.03,156.19 L429.67,154.27 L431.30,152.34 L432.93,150.40 L434.57,148.45 L436.20,146.48 L437.83,144.50 L439.47,142.51 L441.10,140.49 L442.73,138.46 L444.37,136.41 L446.00,134.34 L447.63,132.25 L449.27,130.13 L450.90,127.98 L452.53,125.81 L454.17,123.61 L455.80,121.37 L457.43,119.09 L459.07,116.78 L460.70,114.43 L462.33,112.03 L463.97,109.59 L465.60,107.10 L467.23,104.56 L468.87,101.96 L471.10,99.30" stroke="#7890f0"/>
<path d="M274.50,263.60 L276.13,263.60 L277.77,263.59 L279.40,263.57 L281.03,263.54 L282.67,263.49 L284.30,263.43 L285.93,263.35 L287.57,263.25 L289.20,263.12 L290.83,262.97 L292.47,262.80 L294.10,262.60 L295.73,262.36 L297.37,262.10 L299.00,261.81 L300.63,261.48 L302.27,261.12 L303.90,260.72 L305.53,260.29 L307.17,259.82 L308.80,259.31 L310.43,258.77 L312.07,258.18 L313.70,257.56 L315.33,256.90 L316.97,256.20 L318.60,255.46 L320.23,254.68 L321.87,253.86 L323.50,253.00 L325.13,252.10 L326.77,251.16 L328.40,250.19 L330.03,249.17 L331.67,248.11 L333.30,247.02 L334.93,245.89 L336.57,244.72 L338.20,243.51 L339.83,242.27 L341.47,240.99 L343.10,239.67 L344.73,238.32 L346.37,236.94 L348.00,235.52 L349.63,234.07 L351.27,232.59 L352.90,231.08 L354.53,229.54 L356.17,227.97 L357.80,226.37 L359.43,224.74 L361.07,223.09 L362.70,221.41 L364.33,219.70 L365.97,217.98 L367.60,216.22 L369.23,214.45 L370.87,212.66 L372.50,210.84 L374.13,209.01 L375.77,207.16 L377.40,205.29 L379.03,203.40 L380.67,201.50 L382.30,199.58 L383.93,197.65 L385.57,195.70 L387.20,193.75 L388.83,191.78 L390.47,189.79 L392.10,187.80 L393.73,185.80 L395.37,183.79 L397.00,181.77 L398.63,179.74 L400.27,177.70 L401.90,175.66 L403.53,173.61 L405.17,171.55 L406.80,169.48 L408.43,167.41 L410.07,165.33 L411.70,163.24 L413.33,161.15 L414.97,159.05 L416.60,156.95 L418.23,154.84 L419.87,152.72 L421.50,150.59 L423.13,148.46 L424.77,146.31 L426.40,144.16 L428.03,142.00 L429.67,139.83 L431.30,137.64 L432.93,135.45 L434.57,133.24 L436.20,131.01 L437.83,128.77 L439.47,126.51 L441.10,124.23 L442.73,121.94 L444.37,119.62 L446.00,117.27 L447.63,114.90 L449.27,112.50 L450.90,110.07 L452.53,107.61 L454.17,105.12 L455.80,102.58 L457.43,100.01 L459.07,97.39 L460.70,94.73 L462.33,92.02 L463.97,89.25 L465.60,86.43 L467.23,83.55 L468.87,80.61 L471.10,77.60" stroke="#ff4a4a"/>
</g></g>
<g font-family='"Liberation Serif", serif' fill="#3a3a3a">
<text x="50.63" y="273.7" font-size="8" text-anchor="middle" >2050</text>
<text x="85.11" y="273.7" font-size="8" text-anchor="middle" >2100</text>
<text x="119.58" y="273.7" font-size="8" text-anchor="middle" >2150</text>
<text x="154.05" y="273.7" font-size="8" text-anchor="middle" >2200</text>
<text x="188.53" y="273.7" font-size="8" text-anchor="middle" >2250</text>
<text x="223.00" y="273.7" font-size="8" text-anchor="middle" >2300</text>
<text x="24.7" y="266.40" font-size="8" text-anchor="end" >0</text>
<text x="24.7" y="223.00" font-size="8" text-anchor="end" >2</text>
<text x="24.7" y="179.60" font-size="8" text-anchor="end" >4</text>
<text x="24.7" y="136.20" font-size="8" text-anchor="end" >6</text>
<text x="24.7" y="92.80" font-size="8" text-anchor="end" >8</text>
<text x="24.7" y="49.40" font-size="8" text-anchor="end" >10</text>
<text x="225.3" y="266.40" font-size="8" text-anchor="start" >0</text>
<text x="225.3" y="227.24" font-size="8" text-anchor="start" >50</text>
<text x="225.3" y="188.07" font-size="8" text-anchor="start" >100</text>
<text x="225.3" y="148.91" font-size="8" text-anchor="start" >150</text>
<text x="225.3" y="109.74" font-size="8" text-anchor="start" >200</text>
<text x="225.3" y="70.58" font-size="8" text-anchor="start" >250</text>
<text x="225.3" y="31.41" font-size="8" text-anchor="start" >300</text>
<text x="27.2" y="12" font-size="8.5"><tspan font-size="9">×</tspan>10<tspan font-size="5" dy="-3.4" dx="0.3">4</tspan></text>
<text x="298.57" y="273.7" font-size="8" text-anchor="middle" >2050</text>
<text x="332.96" y="273.7" font-size="8" text-anchor="middle" >2100</text>
<text x="367.34" y="273.7" font-size="8" text-anchor="middle" >2150</text>
<text x="401.73" y="273.7" font-size="8" text-anchor="middle" >2200</text>
<text x="436.11" y="273.7" font-size="8" text-anchor="middle" >2250</text>
<text x="470.50" y="273.7" font-size="8" text-anchor="middle" >2300</text>
<text x="272.7" y="266.40" font-size="8" text-anchor="end" >0</text>
<text x="272.7" y="223.00" font-size="8" text-anchor="end" >2</text>
<text x="272.7" y="179.60" font-size="8" text-anchor="end" >4</text>
<text x="272.7" y="136.20" font-size="8" text-anchor="end" >6</text>
<text x="272.7" y="92.80" font-size="8" text-anchor="end" >8</text>
<text x="272.7" y="49.40" font-size="8" text-anchor="end" >10</text>
<text x="472.8" y="266.40" font-size="8" text-anchor="start" >0</text>
<text x="472.8" y="227.24" font-size="8" text-anchor="start" >50</text>
<text x="472.8" y="188.07" font-size="8" text-anchor="start" >100</text>
<text x="472.8" y="148.91" font-size="8" text-anchor="start" >150</text>
<text x="472.8" y="109.74" font-size="8" text-anchor="start" >200</text>
<text x="472.8" y="70.58" font-size="8" text-anchor="start" >250</text>
<text x="472.8" y="31.41" font-size="8" text-anchor="start" >300</text>
<text x="275.2" y="12" font-size="8.5"><tspan font-size="9">×</tspan>10<tspan font-size="5" dy="-3.4" dx="0.3">4</tspan></text>
<text x="124.75" y="284.6" font-size="9" text-anchor="middle" >Year</text>
<text x="372.5" y="284.6" font-size="9" text-anchor="middle" >Year</text>
</g>
<g font-family='"Liberation Serif", serif' fill="#333">
<text transform="translate(11.9,139.3) rotate(-90)" x="0" y="0" font-size="9.2" text-anchor="middle" textLength="108" lengthAdjust="spacingAndGlyphs">Loss of VAF, -ΔVAF (km<tspan font-size="6" dy="-3.2">3</tspan><tspan dy="3.2">)</tspan></text>
<text transform="translate(245.4,139.75) rotate(-90)" x="0" y="0" font-size="9.2" text-anchor="middle" textLength="117.9" lengthAdjust="spacingAndGlyphs">Equivalent sea level rise (mm)</text>
<text transform="translate(260.2,138.0) rotate(-90)" x="0" y="0" font-size="9.2" text-anchor="middle" textLength="189" lengthAdjust="spacingAndGlyphs">Additional -ΔVAF over no calving front retreat (km<tspan font-size="6" dy="-3.2">3</tspan><tspan dy="3.2">)</tspan></text>
<text transform="translate(492.6,143.0) rotate(-90)" x="0" y="0" font-size="9.2" text-anchor="middle" textLength="113.4" lengthAdjust="spacingAndGlyphs">Equivalent sea level rise (mm)</text>
</g>
<g font-family='"Liberation Serif", serif' fill="#333">
<rect x="30.5" y="18.5" width="53" height="73" fill="#fff" stroke="#a6a6a6" stroke-width="0.8"/>
<path d="M30.5,28.5 H83.5" stroke="#a6a6a6" stroke-width="0.8"/>
<text x="57" y="25.8" font-size="7.6" text-anchor="middle" >Climate forcing</text>
<path d="M32,33.30 H44.6" stroke="#4a6fb0" stroke-width="1.3"/>
<text x="45.7" y="35.90" font-size="7.6" text-anchor="start" >CCSM</text>
<path d="M32,42.15 H44.6" stroke="#d04848" stroke-width="1.3"/>
<text x="45.7" y="44.75" font-size="7.6" text-anchor="start" >CESM</text>
<path d="M32,51.00 H44.6" stroke="#b8902c" stroke-width="1.3"/>
<text x="45.7" y="53.60" font-size="7.6" text-anchor="start" >Control</text>
<path d="M32,59.85 H44.6" stroke="#2e7d3a" stroke-width="1.3"/>
<text x="45.7" y="62.45" font-size="7.6" text-anchor="start" >HadGEM</text>
<path d="M32,68.70 H44.6" stroke="#f0c0a0" stroke-width="1.3"/>
<text x="45.7" y="71.30" font-size="7.6" text-anchor="start" >NorESM</text>
<path d="M32,77.55 H44.6" stroke="#7a3a2e" stroke-width="1.3"/>
<text x="45.7" y="80.15" font-size="7.6" text-anchor="start" >UKESM</text>
<path d="M32,86.40 H44.6" stroke="#fde0c0" stroke-width="1.3"/>
<text x="45.7" y="89.00" font-size="7.6" text-anchor="start" >UKESMrep</text>
<rect x="30.5" y="96" width="53" height="36.2" fill="#fff" stroke="#a6a6a6" stroke-width="0.8"/>
<path d="M30.5,105.2 H83.5" stroke="#a6a6a6" stroke-width="0.8"/>
<text x="57.3" y="102.5" font-size="7.6" text-anchor="middle" textLength="39.6" lengthAdjust="spacingAndGlyphs" >Retreat rates</text>
<path d="M33.9,110.60 H47.4" stroke="#222" stroke-width="1.1"/>
<text x="47.4" y="113.20" font-size="7.6">0 km a<tspan font-size="5.6" dy="-3.2">−1</tspan></text>
<path d="M33.9,118.85 H47.4" stroke="#222" stroke-width="1.1" stroke-dasharray="2.5,2.9"/>
<text x="47.4" y="121.45" font-size="7.6">-0.5 km a<tspan font-size="5.6" dy="-3.2">−1</tspan></text>
<path d="M33.9,127.10 H47.4" stroke="#222" stroke-width="1.1" stroke-dasharray="2.2,0.8"/>
<text x="47.4" y="129.70" font-size="7.6">1 km a<tspan font-size="5.6" dy="-3.2">−1</tspan></text>
<rect x="278.5" y="18.5" width="107.7" height="54.8" fill="#fff" stroke="#a6a6a6" stroke-width="0.8"/>
<path d="M278.5,28.5 H386.2" stroke="#a6a6a6" stroke-width="0.8"/>
<text x="332.2" y="25.8" font-size="7.6" text-anchor="middle" textLength="104.8" lengthAdjust="spacingAndGlyphs" >Retreat rate using Control forcing</text>
<path d="M284,33.30 H297.3" stroke="#3a8ad0" stroke-width="1.3"/>
<text x="297.5" y="35.90" font-size="7.6">0.1 km a<tspan font-size="5.6" dy="-3.2">−1</tspan></text>
<path d="M284,42.00 H297.3" stroke="#e05a28" stroke-width="1.3"/>
<text x="297.5" y="44.60" font-size="7.6">0.2 km a<tspan font-size="5.6" dy="-3.2">−1</tspan></text>
<path d="M284,50.70 H297.3" stroke="#f0b030" stroke-width="1.3"/>
<text x="297.5" y="53.30" font-size="7.6">0.3 km a<tspan font-size="5.6" dy="-3.2">−1</tspan></text>
<path d="M284,59.40 H297.3" stroke="#9040b0" stroke-width="1.3"/>
<text x="297.5" y="62.00" font-size="7.6">0.4 km a<tspan font-size="5.6" dy="-3.2">−1</tspan></text>
<path d="M284,68.10 H297.3" stroke="#8cbf5a" stroke-width="1.3"/>
<text x="297.5" y="70.70" font-size="7.6">0.5 km a<tspan font-size="5.6" dy="-3.2">−1</tspan></text>
<path d="M333.6,33.30 H346.8" stroke="#60c0f0" stroke-width="1.3"/>
<text x="347" y="35.90" font-size="7.6">0.6 km a<tspan font-size="5.6" dy="-3.2">−1</tspan></text>
<path d="M333.6,42.00 H346.8" stroke="#a02040" stroke-width="1.3"/>
<text x="347" y="44.60" font-size="7.6">0.7 km a<tspan font-size="5.6" dy="-3.2">−1</tspan></text>
<path d="M333.6,50.70 H346.8" stroke="#f8cc20" stroke-width="1.3"/>
<text x="347" y="53.30" font-size="7.6">0.8 km a<tspan font-size="5.6" dy="-3.2">−1</tspan></text>
<path d="M333.6,59.40 H346.8" stroke="#7890f0" stroke-width="1.3"/>
<text x="347" y="62.00" font-size="7.6">0.9 km a<tspan font-size="5.6" dy="-3.2">−1</tspan></text>
<path d="M333.6,68.10 H346.8" stroke="#ff4a4a" stroke-width="1.3"/>
<text x="347" y="70.70" font-size="7.6">1 km a<tspan font-size="5.6" dy="-3.2">−1</tspan></text>
<rect x="278.5" y="78.4" width="107.7" height="28.1" fill="#fff" stroke="#a6a6a6" stroke-width="0.8"/>
<path d="M278.5,88 H386.2" stroke="#a6a6a6" stroke-width="0.8"/>
<text x="332.3" y="85.6" font-size="7.6" text-anchor="middle" >Range using all climate forcing</text>
<rect x="309" y="90.3" width="13" height="5.9" fill="#dfeccf"/>
<rect x="309" y="98.9" width="13" height="5.8" fill="#ffd3d3"/>
<text x="322.8" y="95.6" font-size="7.6">0.5 km a<tspan font-size="5.6" dy="-3.2">−1</tspan></text>
<text x="322.8" y="104.2" font-size="7.6">1 km a<tspan font-size="5.6" dy="-3.2">−1</tspan></text>
</g>
</svg>
</div></body></html>
